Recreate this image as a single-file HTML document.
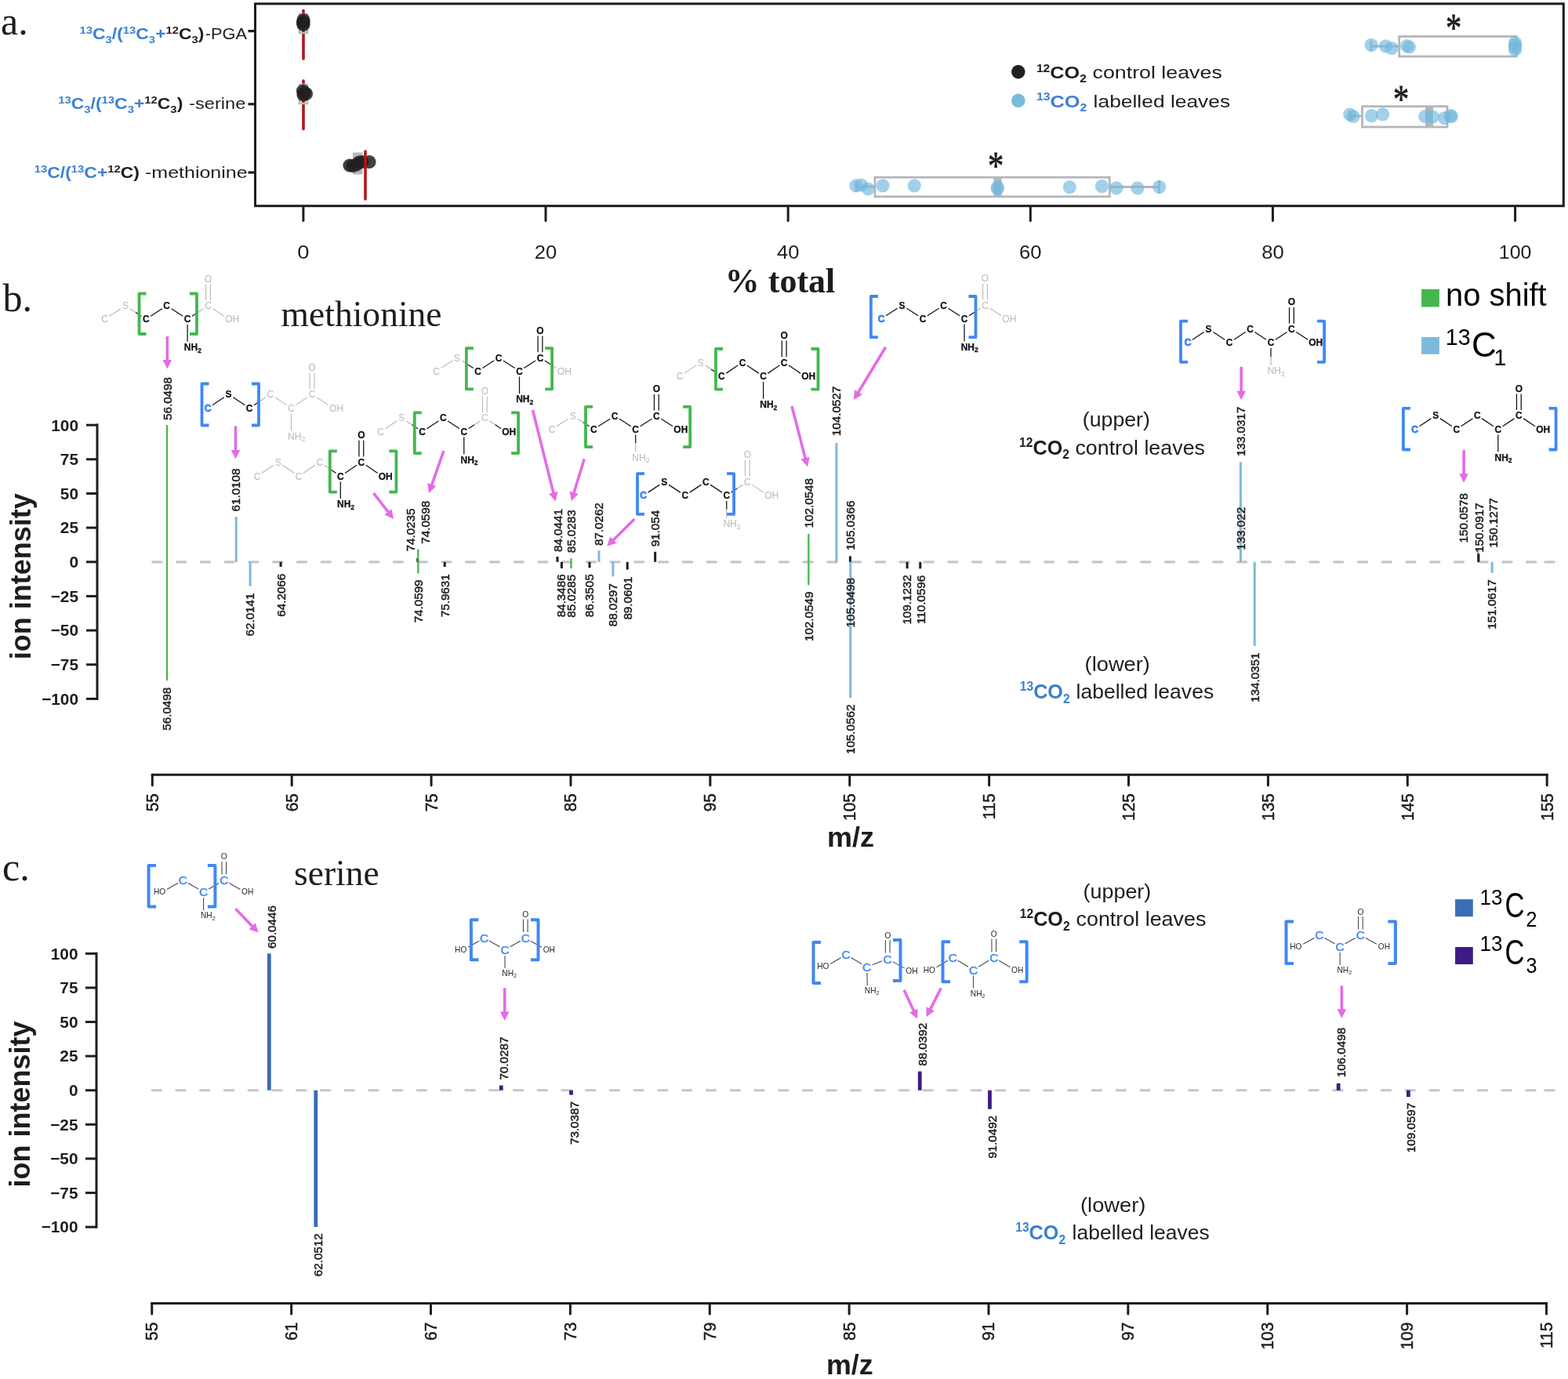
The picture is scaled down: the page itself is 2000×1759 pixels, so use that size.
<!DOCTYPE html>
<html><head><meta charset="utf-8"><title>Figure</title><style>html,body{margin:0;padding:0;background:#fff;}svg{display:block;}</style></head><body>
<svg width="2000" height="1759" viewBox="0 0 2000 1759">
<rect width="2000" height="1759" fill="#ffffff"/>
<text x="1" y="43.7" font-family="'Liberation Serif', 'Times New Roman', serif" font-size="50" font-weight="normal" fill="#1f1c1d" text-anchor="start" >a.</text>
<rect x="325.5" y="4.8" width="1668.8" height="257.9" fill="none" stroke="#1f1c1d" stroke-width="3"/>
<line x1="316.5" y1="39.6" x2="325.5" y2="39.6" stroke="#1f1c1d" stroke-width="3.2" stroke-linecap="butt" />
<line x1="316.5" y1="132.8" x2="325.5" y2="132.8" stroke="#1f1c1d" stroke-width="3.2" stroke-linecap="butt" />
<line x1="316.5" y1="220" x2="325.5" y2="220" stroke="#1f1c1d" stroke-width="3.2" stroke-linecap="butt" />
<line x1="386.9" y1="264" x2="386.9" y2="281.5" stroke="#1f1c1d" stroke-width="3" stroke-linecap="round" />
<text x="386.9" y="329.8" font-family="'Liberation Sans', Arial, sans-serif" font-size="24.8" font-weight="normal" fill="#1f1c1d" text-anchor="middle" textLength="15.2" lengthAdjust="spacingAndGlyphs">0</text>
<line x1="696.04" y1="264" x2="696.04" y2="281.5" stroke="#1f1c1d" stroke-width="3" stroke-linecap="round" />
<text x="696.04" y="329.8" font-family="'Liberation Sans', Arial, sans-serif" font-size="24.8" font-weight="normal" fill="#1f1c1d" text-anchor="middle" textLength="28.5" lengthAdjust="spacingAndGlyphs">20</text>
<line x1="1005.18" y1="264" x2="1005.18" y2="281.5" stroke="#1f1c1d" stroke-width="3" stroke-linecap="round" />
<text x="1005.18" y="329.8" font-family="'Liberation Sans', Arial, sans-serif" font-size="24.8" font-weight="normal" fill="#1f1c1d" text-anchor="middle" textLength="28.5" lengthAdjust="spacingAndGlyphs">40</text>
<line x1="1314.32" y1="264" x2="1314.32" y2="281.5" stroke="#1f1c1d" stroke-width="3" stroke-linecap="round" />
<text x="1314.32" y="329.8" font-family="'Liberation Sans', Arial, sans-serif" font-size="24.8" font-weight="normal" fill="#1f1c1d" text-anchor="middle" textLength="28.5" lengthAdjust="spacingAndGlyphs">60</text>
<line x1="1623.46" y1="264" x2="1623.46" y2="281.5" stroke="#1f1c1d" stroke-width="3" stroke-linecap="round" />
<text x="1623.46" y="329.8" font-family="'Liberation Sans', Arial, sans-serif" font-size="24.8" font-weight="normal" fill="#1f1c1d" text-anchor="middle" textLength="28.5" lengthAdjust="spacingAndGlyphs">80</text>
<line x1="1932.6" y1="264" x2="1932.6" y2="281.5" stroke="#1f1c1d" stroke-width="3" stroke-linecap="round" />
<text x="1932.6" y="329.8" font-family="'Liberation Sans', Arial, sans-serif" font-size="24.8" font-weight="normal" fill="#1f1c1d" text-anchor="middle" textLength="41.6" lengthAdjust="spacingAndGlyphs">100</text>
<text x="995" y="373" font-family="'Liberation Serif', 'Times New Roman', serif" font-size="44" font-weight="bold" fill="#1f1c1d" text-anchor="middle" >% total</text>
<text x="101.5" y="49.5" font-family="'Liberation Sans', Arial, sans-serif" font-size="20" font-weight="bold" textLength="159" lengthAdjust="spacingAndGlyphs"><tspan fill="#3b80d2"><tspan font-size="13" dy="-7">13</tspan><tspan dy="7">C</tspan><tspan font-size="13" dy="5">3</tspan><tspan dy="-5">/(</tspan><tspan font-size="13" dy="-7">13</tspan><tspan dy="7">C</tspan><tspan font-size="13" dy="5">3</tspan><tspan dy="-5">+</tspan></tspan><tspan fill="#1f1c1d"><tspan font-size="13" dy="-7">12</tspan><tspan dy="7">C</tspan><tspan font-size="13" dy="5">3</tspan><tspan dy="-5">)</tspan></tspan></text>
<text x="261.8" y="49.5" font-family="'Liberation Sans', Arial, sans-serif" font-size="20" fill="#1f1c1d" textLength="53.2" lengthAdjust="spacingAndGlyphs">-PGA</text>
<text x="74.2" y="139.4" font-family="'Liberation Sans', Arial, sans-serif" font-size="20" font-weight="bold" textLength="159.1" lengthAdjust="spacingAndGlyphs"><tspan fill="#3b80d2"><tspan font-size="13" dy="-7">13</tspan><tspan dy="7">C</tspan><tspan font-size="13" dy="5">3</tspan><tspan dy="-5">/(</tspan><tspan font-size="13" dy="-7">13</tspan><tspan dy="7">C</tspan><tspan font-size="13" dy="5">3</tspan><tspan dy="-5">+</tspan></tspan><tspan fill="#1f1c1d"><tspan font-size="13" dy="-7">12</tspan><tspan dy="7">C</tspan><tspan font-size="13" dy="5">3</tspan><tspan dy="-5">)</tspan></tspan></text>
<text x="241.1" y="139.4" font-family="'Liberation Sans', Arial, sans-serif" font-size="20" fill="#1f1c1d" textLength="72.2" lengthAdjust="spacingAndGlyphs">-serine</text>
<text x="43.7" y="226.7" font-family="'Liberation Sans', Arial, sans-serif" font-size="20" font-weight="bold" textLength="134.3" lengthAdjust="spacingAndGlyphs"><tspan fill="#3b80d2"><tspan font-size="13" dy="-7">13</tspan><tspan dy="7">C/(</tspan><tspan font-size="13" dy="-7">13</tspan><tspan dy="7">C+</tspan></tspan><tspan fill="#1f1c1d"><tspan font-size="13" dy="-7">12</tspan><tspan dy="7">C)</tspan></tspan></text>
<text x="185" y="226.7" font-family="'Liberation Sans', Arial, sans-serif" font-size="20" fill="#1f1c1d" textLength="130.6" lengthAdjust="spacingAndGlyphs">-methionine</text>
<line x1="387" y1="13.5" x2="387" y2="75" stroke="#b3161a" stroke-width="3.6" stroke-linecap="round" />
<line x1="387" y1="103" x2="387" y2="164.5" stroke="#b3161a" stroke-width="3.6" stroke-linecap="round" />
<rect x="382" y="18" width="10" height="24" fill="none" stroke="#b4b7ba" stroke-width="2.5"/>
<rect x="382" y="108" width="10" height="24" fill="none" stroke="#b4b7ba" stroke-width="2.5"/>
<rect x="451" y="195.5" width="10.5" height="26" fill="#b4b7ba" stroke="#b4b7ba" stroke-width="2"/>
<circle cx="387" cy="25.5" r="8.6" fill="#231f20" fill-opacity="0.85"/>
<circle cx="387" cy="28.5" r="8.6" fill="#231f20" fill-opacity="0.85"/>
<circle cx="387" cy="31.5" r="8.6" fill="#231f20" fill-opacity="0.85"/>
<circle cx="386.5" cy="29" r="8.6" fill="#231f20" fill-opacity="0.85"/>
<circle cx="386.5" cy="116" r="8.6" fill="#231f20" fill-opacity="0.85"/>
<circle cx="387" cy="121" r="8.6" fill="#231f20" fill-opacity="0.85"/>
<circle cx="390.5" cy="119.5" r="8.6" fill="#231f20" fill-opacity="0.85"/>
<circle cx="388" cy="119" r="8.6" fill="#231f20" fill-opacity="0.85"/>
<circle cx="446" cy="211" r="8.6" fill="#231f20" fill-opacity="0.85"/>
<circle cx="450" cy="211.5" r="8.6" fill="#231f20" fill-opacity="0.85"/>
<circle cx="454.5" cy="210" r="8.6" fill="#231f20" fill-opacity="0.85"/>
<circle cx="458" cy="207" r="8.6" fill="#231f20" fill-opacity="0.85"/>
<circle cx="462" cy="206.5" r="8.6" fill="#231f20" fill-opacity="0.85"/>
<circle cx="471" cy="206.5" r="8.6" fill="#231f20" fill-opacity="0.85"/>
<line x1="466" y1="193" x2="466" y2="254" stroke="#b3161a" stroke-width="3.6" stroke-linecap="round" />
<rect x="1784.7" y="46.5" width="149.3" height="25.5" fill="none" stroke="#b4b7ba" stroke-width="2.8"/>
<line x1="1749" y1="59" x2="1784.7" y2="59" stroke="#b4b7ba" stroke-width="2.8" stroke-linecap="butt" />
<line x1="1749" y1="52" x2="1749" y2="66" stroke="#b4b7ba" stroke-width="2.8" stroke-linecap="butt" />
<rect x="1737.5" y="135.7" width="108.5" height="26.3" fill="none" stroke="#b4b7ba" stroke-width="2.8"/>
<line x1="1722" y1="148" x2="1737.5" y2="148" stroke="#b4b7ba" stroke-width="2.8" stroke-linecap="butt" />
<line x1="1722" y1="141" x2="1722" y2="155" stroke="#b4b7ba" stroke-width="2.8" stroke-linecap="butt" />
<rect x="1818" y="135.7" width="10" height="26.3" fill="#b4b7ba"/>
<rect x="1116" y="226.2" width="299.3" height="24.6" fill="none" stroke="#b4b7ba" stroke-width="2.8"/>
<line x1="1092" y1="238" x2="1116" y2="238" stroke="#b4b7ba" stroke-width="2.8" stroke-linecap="butt" />
<line x1="1092" y1="231" x2="1092" y2="245" stroke="#b4b7ba" stroke-width="2.8" stroke-linecap="butt" />
<line x1="1415.3" y1="238.5" x2="1478.7" y2="238.5" stroke="#b4b7ba" stroke-width="2.8" stroke-linecap="butt" />
<line x1="1478.7" y1="230" x2="1478.7" y2="247" stroke="#b4b7ba" stroke-width="2.8" stroke-linecap="butt" />
<rect x="1267.5" y="226.2" width="10" height="24.6" fill="#b4b7ba"/>
<circle cx="1749" cy="57.4" r="8.6" fill="#74b7dd" fill-opacity="0.66"/>
<circle cx="1767.5" cy="58.8" r="8.6" fill="#74b7dd" fill-opacity="0.66"/>
<circle cx="1775" cy="61.5" r="8.6" fill="#74b7dd" fill-opacity="0.66"/>
<circle cx="1794.5" cy="58.5" r="8.6" fill="#74b7dd" fill-opacity="0.66"/>
<circle cx="1797.5" cy="60" r="8.6" fill="#74b7dd" fill-opacity="0.66"/>
<circle cx="1932.5" cy="54.5" r="8.6" fill="#74b7dd" fill-opacity="0.66"/>
<circle cx="1932.5" cy="57.5" r="8.6" fill="#74b7dd" fill-opacity="0.66"/>
<circle cx="1932.5" cy="60.5" r="8.6" fill="#74b7dd" fill-opacity="0.66"/>
<circle cx="1932.5" cy="63.5" r="8.6" fill="#74b7dd" fill-opacity="0.66"/>
<circle cx="1721.7" cy="146" r="8.6" fill="#74b7dd" fill-opacity="0.66"/>
<circle cx="1726" cy="148.5" r="8.6" fill="#74b7dd" fill-opacity="0.66"/>
<circle cx="1749.5" cy="147.7" r="8.6" fill="#74b7dd" fill-opacity="0.66"/>
<circle cx="1763.7" cy="145.8" r="8.6" fill="#74b7dd" fill-opacity="0.66"/>
<circle cx="1817.7" cy="148.5" r="8.6" fill="#74b7dd" fill-opacity="0.66"/>
<circle cx="1827.5" cy="149" r="8.6" fill="#74b7dd" fill-opacity="0.66"/>
<circle cx="1842.5" cy="150.7" r="8.6" fill="#74b7dd" fill-opacity="0.66"/>
<circle cx="1850" cy="147.7" r="8.6" fill="#74b7dd" fill-opacity="0.66"/>
<circle cx="1851.5" cy="148.5" r="8.6" fill="#74b7dd" fill-opacity="0.66"/>
<circle cx="1092" cy="236.8" r="8.6" fill="#74b7dd" fill-opacity="0.66"/>
<circle cx="1098.5" cy="236" r="8.6" fill="#74b7dd" fill-opacity="0.66"/>
<circle cx="1107.3" cy="241" r="8.6" fill="#74b7dd" fill-opacity="0.66"/>
<circle cx="1126" cy="236.8" r="8.6" fill="#74b7dd" fill-opacity="0.66"/>
<circle cx="1166.3" cy="236.8" r="8.6" fill="#74b7dd" fill-opacity="0.66"/>
<circle cx="1272.3" cy="238.5" r="8.6" fill="#74b7dd" fill-opacity="0.66"/>
<circle cx="1272.3" cy="241" r="8.6" fill="#74b7dd" fill-opacity="0.66"/>
<circle cx="1364.3" cy="238.7" r="8.6" fill="#74b7dd" fill-opacity="0.66"/>
<circle cx="1405.4" cy="237.6" r="8.6" fill="#74b7dd" fill-opacity="0.66"/>
<circle cx="1424" cy="239.8" r="8.6" fill="#74b7dd" fill-opacity="0.66"/>
<circle cx="1451" cy="239.8" r="8.6" fill="#74b7dd" fill-opacity="0.66"/>
<circle cx="1478.7" cy="238.3" r="8.6" fill="#74b7dd" fill-opacity="0.66"/>
<text transform="translate(1854,27.2) scale(0.92,1.17)" x="0" y="20.99" font-family="'Liberation Serif', 'Times New Roman', serif" font-size="44" fill="#1f1c1d" stroke="#1f1c1d" stroke-width="0.7" text-anchor="middle">*</text>
<text transform="translate(1787,118.5) scale(0.92,1.17)" x="0" y="20.99" font-family="'Liberation Serif', 'Times New Roman', serif" font-size="44" fill="#1f1c1d" stroke="#1f1c1d" stroke-width="0.7" text-anchor="middle">*</text>
<text transform="translate(1270.1,203.6) scale(0.92,1.17)" x="0" y="20.99" font-family="'Liberation Serif', 'Times New Roman', serif" font-size="44" fill="#1f1c1d" stroke="#1f1c1d" stroke-width="0.7" text-anchor="middle">*</text>
<circle cx="1298.8" cy="91.6" r="8.8" fill="#231f20"/>
<circle cx="1298.8" cy="128.4" r="8.8" fill="#7cbadb"/>
<text x="1321.9" y="100.4" font-family="'Liberation Sans', Arial, sans-serif" font-size="22.4" font-weight="bold" fill="#1f1c1d" textLength="64" lengthAdjust="spacingAndGlyphs"><tspan font-size="13.89" dy="-8.51">12</tspan><tspan dy="8.51">CO</tspan><tspan font-size="13.89" dy="4.93">2</tspan></text>
<text x="1393.5" y="100.4" font-family="'Liberation Sans', Arial, sans-serif" font-size="22.4" fill="#1f1c1d" textLength="165.3" lengthAdjust="spacingAndGlyphs">control leaves</text>
<text x="1321.9" y="136.9" font-family="'Liberation Sans', Arial, sans-serif" font-size="22.4" font-weight="bold" fill="#3b80d2" textLength="64.3" lengthAdjust="spacingAndGlyphs"><tspan font-size="13.89" dy="-8.51">13</tspan><tspan dy="8.51">CO</tspan><tspan font-size="13.89" dy="4.93">2</tspan></text>
<text x="1394.6" y="136.9" font-family="'Liberation Sans', Arial, sans-serif" font-size="22.4" fill="#1f1c1d" textLength="174.6" lengthAdjust="spacingAndGlyphs">labelled leaves</text>
<text x="3.5" y="396.5" font-family="'Liberation Serif', 'Times New Roman', serif" font-size="50" font-weight="normal" fill="#1f1c1d" text-anchor="start" >b.</text>
<text x="358.6" y="416" font-family="'Liberation Serif', 'Times New Roman', serif" font-size="45.5" font-weight="normal" fill="#1f1c1d" text-anchor="start" textLength="205" lengthAdjust="spacingAndGlyphs">methionine</text>
<line x1="194.8" y1="716.8" x2="1962" y2="716.8" stroke="#c4c7ca" stroke-width="3.2" stroke-linecap="round" stroke-dasharray="11.3 19.45"/>
<line x1="1970.9" y1="716.8" x2="1982.3" y2="716.8" stroke="#c4c7ca" stroke-width="3.2" stroke-linecap="round" />
<line x1="124" y1="540.5" x2="124" y2="892.9" stroke="#1f1c1d" stroke-width="3" stroke-linecap="butt" />
<line x1="110" y1="542.2" x2="124" y2="542.2" stroke="#1f1c1d" stroke-width="3" stroke-linecap="butt" />
<text x="100" y="549.52" font-family="'Liberation Sans', Arial, sans-serif" font-size="20.8" font-weight="bold" fill="#1f1c1d" text-anchor="end" >100</text>
<line x1="110" y1="585.85" x2="124" y2="585.85" stroke="#1f1c1d" stroke-width="3" stroke-linecap="butt" />
<text x="100" y="593.17" font-family="'Liberation Sans', Arial, sans-serif" font-size="20.8" font-weight="bold" fill="#1f1c1d" text-anchor="end" >75</text>
<line x1="110" y1="629.5" x2="124" y2="629.5" stroke="#1f1c1d" stroke-width="3" stroke-linecap="butt" />
<text x="100" y="636.82" font-family="'Liberation Sans', Arial, sans-serif" font-size="20.8" font-weight="bold" fill="#1f1c1d" text-anchor="end" >50</text>
<line x1="110" y1="673.15" x2="124" y2="673.15" stroke="#1f1c1d" stroke-width="3" stroke-linecap="butt" />
<text x="100" y="680.47" font-family="'Liberation Sans', Arial, sans-serif" font-size="20.8" font-weight="bold" fill="#1f1c1d" text-anchor="end" >25</text>
<line x1="110" y1="716.8" x2="124" y2="716.8" stroke="#1f1c1d" stroke-width="3" stroke-linecap="butt" />
<text x="100" y="724.12" font-family="'Liberation Sans', Arial, sans-serif" font-size="20.8" font-weight="bold" fill="#1f1c1d" text-anchor="end" >0</text>
<line x1="110" y1="760.45" x2="124" y2="760.45" stroke="#1f1c1d" stroke-width="3" stroke-linecap="butt" />
<text x="100" y="767.77" font-family="'Liberation Sans', Arial, sans-serif" font-size="20.8" font-weight="bold" fill="#1f1c1d" text-anchor="end" >−25</text>
<line x1="110" y1="804.1" x2="124" y2="804.1" stroke="#1f1c1d" stroke-width="3" stroke-linecap="butt" />
<text x="100" y="811.42" font-family="'Liberation Sans', Arial, sans-serif" font-size="20.8" font-weight="bold" fill="#1f1c1d" text-anchor="end" >−50</text>
<line x1="110" y1="847.75" x2="124" y2="847.75" stroke="#1f1c1d" stroke-width="3" stroke-linecap="butt" />
<text x="100" y="855.07" font-family="'Liberation Sans', Arial, sans-serif" font-size="20.8" font-weight="bold" fill="#1f1c1d" text-anchor="end" >−75</text>
<line x1="110" y1="891.4" x2="124" y2="891.4" stroke="#1f1c1d" stroke-width="3" stroke-linecap="butt" />
<text x="100" y="898.72" font-family="'Liberation Sans', Arial, sans-serif" font-size="20.8" font-weight="bold" fill="#1f1c1d" text-anchor="end" >−100</text>
<text transform="translate(38.7,735.2) rotate(-90)" font-family="'Liberation Sans', Arial, sans-serif" font-size="36" font-weight="bold" fill="#1f1c1d" text-anchor="middle">ion intensity</text>
<line x1="192.8" y1="988.3" x2="1974.7" y2="988.3" stroke="#1f1c1d" stroke-width="3" stroke-linecap="butt" />
<line x1="194.3" y1="988.3" x2="194.3" y2="1001.8" stroke="#1f1c1d" stroke-width="3" stroke-linecap="round" />
<text transform="translate(201.76,1012.2) rotate(-90) scale(1,1.06)" font-family="'Liberation Sans', Arial, sans-serif" font-size="20.8" font-weight="normal" fill="#1f1c1d" text-anchor="end" stroke="#1f1c1d" stroke-width="0.5">55</text>
<line x1="372.19" y1="988.3" x2="372.19" y2="1001.8" stroke="#1f1c1d" stroke-width="3" stroke-linecap="round" />
<text transform="translate(379.65,1012.2) rotate(-90) scale(1,1.06)" font-family="'Liberation Sans', Arial, sans-serif" font-size="20.8" font-weight="normal" fill="#1f1c1d" text-anchor="end" stroke="#1f1c1d" stroke-width="0.5">65</text>
<line x1="550.08" y1="988.3" x2="550.08" y2="1001.8" stroke="#1f1c1d" stroke-width="3" stroke-linecap="round" />
<text transform="translate(557.54,1012.2) rotate(-90) scale(1,1.06)" font-family="'Liberation Sans', Arial, sans-serif" font-size="20.8" font-weight="normal" fill="#1f1c1d" text-anchor="end" stroke="#1f1c1d" stroke-width="0.5">75</text>
<line x1="727.97" y1="988.3" x2="727.97" y2="1001.8" stroke="#1f1c1d" stroke-width="3" stroke-linecap="round" />
<text transform="translate(735.43,1012.2) rotate(-90) scale(1,1.06)" font-family="'Liberation Sans', Arial, sans-serif" font-size="20.8" font-weight="normal" fill="#1f1c1d" text-anchor="end" stroke="#1f1c1d" stroke-width="0.5">85</text>
<line x1="905.86" y1="988.3" x2="905.86" y2="1001.8" stroke="#1f1c1d" stroke-width="3" stroke-linecap="round" />
<text transform="translate(913.32,1012.2) rotate(-90) scale(1,1.06)" font-family="'Liberation Sans', Arial, sans-serif" font-size="20.8" font-weight="normal" fill="#1f1c1d" text-anchor="end" stroke="#1f1c1d" stroke-width="0.5">95</text>
<line x1="1083.75" y1="988.3" x2="1083.75" y2="1001.8" stroke="#1f1c1d" stroke-width="3" stroke-linecap="round" />
<text transform="translate(1091.21,1012.2) rotate(-90) scale(1,1.06)" font-family="'Liberation Sans', Arial, sans-serif" font-size="20.8" font-weight="normal" fill="#1f1c1d" text-anchor="end" stroke="#1f1c1d" stroke-width="0.5">105</text>
<line x1="1261.64" y1="988.3" x2="1261.64" y2="1001.8" stroke="#1f1c1d" stroke-width="3" stroke-linecap="round" />
<text transform="translate(1269.1,1012.2) rotate(-90) scale(1,1.06)" font-family="'Liberation Sans', Arial, sans-serif" font-size="20.8" font-weight="normal" fill="#1f1c1d" text-anchor="end" stroke="#1f1c1d" stroke-width="0.5">115</text>
<line x1="1439.53" y1="988.3" x2="1439.53" y2="1001.8" stroke="#1f1c1d" stroke-width="3" stroke-linecap="round" />
<text transform="translate(1446.99,1012.2) rotate(-90) scale(1,1.06)" font-family="'Liberation Sans', Arial, sans-serif" font-size="20.8" font-weight="normal" fill="#1f1c1d" text-anchor="end" stroke="#1f1c1d" stroke-width="0.5">125</text>
<line x1="1617.42" y1="988.3" x2="1617.42" y2="1001.8" stroke="#1f1c1d" stroke-width="3" stroke-linecap="round" />
<text transform="translate(1624.88,1012.2) rotate(-90) scale(1,1.06)" font-family="'Liberation Sans', Arial, sans-serif" font-size="20.8" font-weight="normal" fill="#1f1c1d" text-anchor="end" stroke="#1f1c1d" stroke-width="0.5">135</text>
<line x1="1795.31" y1="988.3" x2="1795.31" y2="1001.8" stroke="#1f1c1d" stroke-width="3" stroke-linecap="round" />
<text transform="translate(1802.77,1012.2) rotate(-90) scale(1,1.06)" font-family="'Liberation Sans', Arial, sans-serif" font-size="20.8" font-weight="normal" fill="#1f1c1d" text-anchor="end" stroke="#1f1c1d" stroke-width="0.5">145</text>
<line x1="1973.2" y1="988.3" x2="1973.2" y2="1001.8" stroke="#1f1c1d" stroke-width="3" stroke-linecap="round" />
<text transform="translate(1980.66,1012.2) rotate(-90) scale(1,1.06)" font-family="'Liberation Sans', Arial, sans-serif" font-size="20.8" font-weight="normal" fill="#1f1c1d" text-anchor="end" stroke="#1f1c1d" stroke-width="0.5">155</text>
<text x="1054.9" y="1080.25" font-family="'Liberation Sans', Arial, sans-serif" font-size="35" font-weight="bold" fill="#1f1c1d" text-anchor="start" textLength="60" lengthAdjust="spacingAndGlyphs">m/z</text>
<line x1="212.97" y1="716.8" x2="212.97" y2="542.2" stroke="#44b750" stroke-width="2.3" stroke-linecap="butt" />
<line x1="301.23" y1="716.8" x2="301.23" y2="659.2" stroke="#7cbadb" stroke-width="3" stroke-linecap="butt" />
<line x1="532.71" y1="716.8" x2="532.71" y2="712" stroke="#1f1c1d" stroke-width="3" stroke-linecap="butt" />
<line x1="533.35" y1="716.8" x2="533.35" y2="700.6" stroke="#44b750" stroke-width="2.3" stroke-linecap="butt" />
<line x1="710.97" y1="716.8" x2="710.97" y2="710" stroke="#1f1c1d" stroke-width="3" stroke-linecap="butt" />
<line x1="728.47" y1="716.8" x2="728.47" y2="712.2" stroke="#44b750" stroke-width="2.3" stroke-linecap="butt" />
<line x1="764.01" y1="716.8" x2="764.01" y2="702.3" stroke="#7cbadb" stroke-width="3" stroke-linecap="butt" />
<line x1="835.66" y1="716.8" x2="835.66" y2="703.8" stroke="#1f1c1d" stroke-width="3" stroke-linecap="butt" />
<line x1="1031.36" y1="716.8" x2="1031.36" y2="681" stroke="#44b750" stroke-width="2.3" stroke-linecap="butt" />
<line x1="1066.9" y1="716.8" x2="1066.9" y2="565" stroke="#7cbadb" stroke-width="3" stroke-linecap="butt" />
<line x1="1084.4" y1="716.8" x2="1084.4" y2="709.4" stroke="#1f1c1d" stroke-width="3" stroke-linecap="butt" />
<line x1="1582.41" y1="716.8" x2="1582.41" y2="589.4" stroke="#7cbadb" stroke-width="3" stroke-linecap="butt" />
<line x1="1885.3" y1="716.8" x2="1885.3" y2="701" stroke="#7cbadb" stroke-width="2.6" stroke-linecap="butt" />
<line x1="1885.89" y1="716.8" x2="1885.89" y2="706.3" stroke="#1f1c1d" stroke-width="3" stroke-linecap="butt" />
<line x1="212.97" y1="716.8" x2="212.97" y2="868.2" stroke="#44b750" stroke-width="2.3" stroke-linecap="butt" />
<line x1="319.07" y1="716.8" x2="319.07" y2="747.7" stroke="#7cbadb" stroke-width="3" stroke-linecap="butt" />
<line x1="358.08" y1="716.8" x2="358.08" y2="723" stroke="#1f1c1d" stroke-width="3" stroke-linecap="butt" />
<line x1="533.36" y1="716.8" x2="533.36" y2="731.4" stroke="#44b750" stroke-width="2.3" stroke-linecap="butt" />
<line x1="567.21" y1="716.8" x2="567.21" y2="723" stroke="#1f1c1d" stroke-width="3" stroke-linecap="butt" />
<line x1="716.38" y1="716.8" x2="716.38" y2="725" stroke="#1f1c1d" stroke-width="3" stroke-linecap="butt" />
<line x1="728.48" y1="716.8" x2="728.48" y2="725" stroke="#44b750" stroke-width="2.3" stroke-linecap="butt" />
<line x1="751.99" y1="716.8" x2="751.99" y2="724.3" stroke="#1f1c1d" stroke-width="3" stroke-linecap="butt" />
<line x1="781.87" y1="716.8" x2="781.87" y2="735.3" stroke="#7cbadb" stroke-width="3" stroke-linecap="butt" />
<line x1="800.2" y1="716.8" x2="800.2" y2="726.5" stroke="#1f1c1d" stroke-width="3" stroke-linecap="butt" />
<line x1="1031.36" y1="716.8" x2="1031.36" y2="746.3" stroke="#44b750" stroke-width="2.3" stroke-linecap="butt" />
<line x1="1084.75" y1="716.8" x2="1084.75" y2="890.1" stroke="#7cbadb" stroke-width="3" stroke-linecap="butt" />
<line x1="1157.1" y1="716.8" x2="1157.1" y2="725.3" stroke="#1f1c1d" stroke-width="3" stroke-linecap="butt" />
<line x1="1173.76" y1="716.8" x2="1173.76" y2="725.3" stroke="#1f1c1d" stroke-width="3" stroke-linecap="butt" />
<line x1="1600.26" y1="716.8" x2="1600.26" y2="824" stroke="#7cbadb" stroke-width="3" stroke-linecap="butt" />
<line x1="1903.14" y1="716.8" x2="1903.14" y2="730.8" stroke="#7cbadb" stroke-width="3" stroke-linecap="butt" />
<text transform="translate(218.55,508.5) rotate(-90)" font-family="'Liberation Sans', Arial, sans-serif" font-size="15.2" font-weight="normal" fill="#1f1c1d" text-anchor="middle" stroke="#1f1c1d" stroke-width="0.5">56.0498</text>
<text transform="translate(306.05,625) rotate(-90)" font-family="'Liberation Sans', Arial, sans-serif" font-size="15.2" font-weight="normal" fill="#1f1c1d" text-anchor="middle" stroke="#1f1c1d" stroke-width="0.5">61.0108</text>
<text transform="translate(529.35,676) rotate(-90)" font-family="'Liberation Sans', Arial, sans-serif" font-size="15.2" font-weight="normal" fill="#1f1c1d" text-anchor="middle" stroke="#1f1c1d" stroke-width="0.5">74.0235</text>
<text transform="translate(547.65,666.25) rotate(-90)" font-family="'Liberation Sans', Arial, sans-serif" font-size="15.2" font-weight="normal" fill="#1f1c1d" text-anchor="middle" stroke="#1f1c1d" stroke-width="0.5">74.0598</text>
<text transform="translate(716.55,676.55) rotate(-90)" font-family="'Liberation Sans', Arial, sans-serif" font-size="15.2" font-weight="normal" fill="#1f1c1d" text-anchor="middle" stroke="#1f1c1d" stroke-width="0.5">84.0441</text>
<text transform="translate(733.85,677.8) rotate(-90)" font-family="'Liberation Sans', Arial, sans-serif" font-size="15.2" font-weight="normal" fill="#1f1c1d" text-anchor="middle" stroke="#1f1c1d" stroke-width="0.5">85.0283</text>
<text transform="translate(769.35,668.65) rotate(-90)" font-family="'Liberation Sans', Arial, sans-serif" font-size="15.2" font-weight="normal" fill="#1f1c1d" text-anchor="middle" stroke="#1f1c1d" stroke-width="0.5">87.0262</text>
<text transform="translate(841.25,674.15) rotate(-90)" font-family="'Liberation Sans', Arial, sans-serif" font-size="15.2" font-weight="normal" fill="#1f1c1d" text-anchor="middle" stroke="#1f1c1d" stroke-width="0.5">91.054</text>
<text transform="translate(1036.65,641.75) rotate(-90)" font-family="'Liberation Sans', Arial, sans-serif" font-size="15.2" font-weight="normal" fill="#1f1c1d" text-anchor="middle" stroke="#1f1c1d" stroke-width="0.5">102.0548</text>
<text transform="translate(1072.05,524.5) rotate(-90)" font-family="'Liberation Sans', Arial, sans-serif" font-size="15.2" font-weight="normal" fill="#1f1c1d" text-anchor="middle" stroke="#1f1c1d" stroke-width="0.5">104.0527</text>
<text transform="translate(1089.85,670.3) rotate(-90)" font-family="'Liberation Sans', Arial, sans-serif" font-size="15.2" font-weight="normal" fill="#1f1c1d" text-anchor="middle" stroke="#1f1c1d" stroke-width="0.5">105.0366</text>
<text transform="translate(1587.75,550.45) rotate(-90)" font-family="'Liberation Sans', Arial, sans-serif" font-size="15.2" font-weight="normal" fill="#1f1c1d" text-anchor="middle" stroke="#1f1c1d" stroke-width="0.5">133.0317</text>
<text transform="translate(1587.75,674.35) rotate(-90)" font-family="'Liberation Sans', Arial, sans-serif" font-size="15.2" font-weight="normal" fill="#1f1c1d" text-anchor="middle" stroke="#1f1c1d" stroke-width="0.5">133.022</text>
<text transform="translate(1872.45,660.75) rotate(-90)" font-family="'Liberation Sans', Arial, sans-serif" font-size="15.2" font-weight="normal" fill="#1f1c1d" text-anchor="middle" stroke="#1f1c1d" stroke-width="0.5">150.0578</text>
<text transform="translate(1891.85,673.2) rotate(-90)" font-family="'Liberation Sans', Arial, sans-serif" font-size="15.2" font-weight="normal" fill="#1f1c1d" text-anchor="middle" stroke="#1f1c1d" stroke-width="0.5">150.0917</text>
<text transform="translate(1910.05,667) rotate(-90)" font-family="'Liberation Sans', Arial, sans-serif" font-size="15.2" font-weight="normal" fill="#1f1c1d" text-anchor="middle" stroke="#1f1c1d" stroke-width="0.5">150.1277</text>
<text transform="translate(218.05,904.25) rotate(-90)" font-family="'Liberation Sans', Arial, sans-serif" font-size="15.2" font-weight="normal" fill="#1f1c1d" text-anchor="middle" stroke="#1f1c1d" stroke-width="0.5">56.0498</text>
<text transform="translate(324.35,784) rotate(-90)" font-family="'Liberation Sans', Arial, sans-serif" font-size="15.2" font-weight="normal" fill="#1f1c1d" text-anchor="middle" stroke="#1f1c1d" stroke-width="0.5">62.0141</text>
<text transform="translate(364.35,759.2) rotate(-90)" font-family="'Liberation Sans', Arial, sans-serif" font-size="15.2" font-weight="normal" fill="#1f1c1d" text-anchor="middle" stroke="#1f1c1d" stroke-width="0.5">64.2066</text>
<text transform="translate(539.25,766.9) rotate(-90)" font-family="'Liberation Sans', Arial, sans-serif" font-size="15.2" font-weight="normal" fill="#1f1c1d" text-anchor="middle" stroke="#1f1c1d" stroke-width="0.5">74.0599</text>
<text transform="translate(572.65,759.75) rotate(-90)" font-family="'Liberation Sans', Arial, sans-serif" font-size="15.2" font-weight="normal" fill="#1f1c1d" text-anchor="middle" stroke="#1f1c1d" stroke-width="0.5">75.9631</text>
<text transform="translate(721.35,759.8) rotate(-90)" font-family="'Liberation Sans', Arial, sans-serif" font-size="15.2" font-weight="normal" fill="#1f1c1d" text-anchor="middle" stroke="#1f1c1d" stroke-width="0.5">84.3486</text>
<text transform="translate(733.85,760.3) rotate(-90)" font-family="'Liberation Sans', Arial, sans-serif" font-size="15.2" font-weight="normal" fill="#1f1c1d" text-anchor="middle" stroke="#1f1c1d" stroke-width="0.5">85.0285</text>
<text transform="translate(757.05,759.8) rotate(-90)" font-family="'Liberation Sans', Arial, sans-serif" font-size="15.2" font-weight="normal" fill="#1f1c1d" text-anchor="middle" stroke="#1f1c1d" stroke-width="0.5">86.3505</text>
<text transform="translate(787.35,771.85) rotate(-90)" font-family="'Liberation Sans', Arial, sans-serif" font-size="15.2" font-weight="normal" fill="#1f1c1d" text-anchor="middle" stroke="#1f1c1d" stroke-width="0.5">88.0297</text>
<text transform="translate(805.65,763.15) rotate(-90)" font-family="'Liberation Sans', Arial, sans-serif" font-size="15.2" font-weight="normal" fill="#1f1c1d" text-anchor="middle" stroke="#1f1c1d" stroke-width="0.5">89.0601</text>
<text transform="translate(1036.65,786.35) rotate(-90)" font-family="'Liberation Sans', Arial, sans-serif" font-size="15.2" font-weight="normal" fill="#1f1c1d" text-anchor="middle" stroke="#1f1c1d" stroke-width="0.5">102.0549</text>
<text transform="translate(1089.85,768.75) rotate(-90)" font-family="'Liberation Sans', Arial, sans-serif" font-size="15.2" font-weight="normal" fill="#1f1c1d" text-anchor="middle" stroke="#1f1c1d" stroke-width="0.5">105.0498</text>
<text transform="translate(1090.05,930.35) rotate(-90)" font-family="'Liberation Sans', Arial, sans-serif" font-size="15.2" font-weight="normal" fill="#1f1c1d" text-anchor="middle" stroke="#1f1c1d" stroke-width="0.5">105.0562</text>
<text transform="translate(1162.25,764.95) rotate(-90)" font-family="'Liberation Sans', Arial, sans-serif" font-size="15.2" font-weight="normal" fill="#1f1c1d" text-anchor="middle" stroke="#1f1c1d" stroke-width="0.5">109.1232</text>
<text transform="translate(1179.75,764.95) rotate(-90)" font-family="'Liberation Sans', Arial, sans-serif" font-size="15.2" font-weight="normal" fill="#1f1c1d" text-anchor="middle" stroke="#1f1c1d" stroke-width="0.5">110.0596</text>
<text transform="translate(1605.55,864.25) rotate(-90)" font-family="'Liberation Sans', Arial, sans-serif" font-size="15.2" font-weight="normal" fill="#1f1c1d" text-anchor="middle" stroke="#1f1c1d" stroke-width="0.5">134.0351</text>
<text transform="translate(1908.05,771) rotate(-90)" font-family="'Liberation Sans', Arial, sans-serif" font-size="15.2" font-weight="normal" fill="#1f1c1d" text-anchor="middle" stroke="#1f1c1d" stroke-width="0.5">151.0617</text>
<text x="1380.8" y="544.3" font-family="'Liberation Sans', Arial, sans-serif" font-size="26.4" fill="#1f1c1d" textLength="86.1" lengthAdjust="spacingAndGlyphs">(upper)</text>
<text x="1300.1" y="579.6" font-family="'Liberation Sans', Arial, sans-serif" font-size="26.4" font-weight="bold" fill="#1f1c1d" textLength="63.9" lengthAdjust="spacingAndGlyphs"><tspan font-size="16.37" dy="-10.03">12</tspan><tspan dy="10.03">CO</tspan><tspan font-size="16.37" dy="5.81">2</tspan></text>
<text x="1371.4" y="579.6" font-family="'Liberation Sans', Arial, sans-serif" font-size="26.4" fill="#1f1c1d" textLength="165.6" lengthAdjust="spacingAndGlyphs">control leaves</text>
<text x="1383.6" y="855.7" font-family="'Liberation Sans', Arial, sans-serif" font-size="26.4" fill="#1f1c1d" textLength="83.3" lengthAdjust="spacingAndGlyphs">(lower)</text>
<text x="1300.8" y="890.7" font-family="'Liberation Sans', Arial, sans-serif" font-size="26.4" font-weight="bold" fill="#3b80d2" textLength="63.9" lengthAdjust="spacingAndGlyphs"><tspan font-size="16.37" dy="-10.03">13</tspan><tspan dy="10.03">CO</tspan><tspan font-size="16.37" dy="5.81">2</tspan></text>
<text x="1372.5" y="890.7" font-family="'Liberation Sans', Arial, sans-serif" font-size="26.4" fill="#1f1c1d" textLength="175.7" lengthAdjust="spacingAndGlyphs">labelled leaves</text>
<rect x="1813.1" y="368.9" width="22.8" height="22.6" fill="#44b750"/>
<text x="1844" y="390.4" font-family="'Liberation Sans', Arial, sans-serif" font-size="40" font-weight="normal" fill="#000" text-anchor="start" textLength="128.7" lengthAdjust="spacingAndGlyphs">no shift</text>
<rect x="1813.1" y="430" width="22.8" height="21.8" fill="#7cbadb"/>
<text x="1843.8" y="439.8" font-family="'Liberation Sans', Arial, sans-serif" font-size="28.6" font-weight="normal" fill="#000" text-anchor="start" >13</text>
<text x="1877" y="454.5" font-family="'Liberation Sans', Arial, sans-serif" font-size="44" font-weight="normal" fill="#000" text-anchor="start" >C</text>
<text x="1905.5" y="466" font-family="'Liberation Sans', Arial, sans-serif" font-size="28.6" font-weight="normal" fill="#000" text-anchor="start" >1</text>
<line x1="139.39" y1="403.21" x2="154.01" y2="393.79" stroke="#b9b9b9" stroke-width="1.1" stroke-linecap="butt" />
<line x1="165.79" y1="393.79" x2="173.1" y2="398.5" stroke="#b9b9b9" stroke-width="1.25" stroke-linecap="butt" />
<line x1="173.1" y1="398.5" x2="180.41" y2="403.21" stroke="#111111" stroke-width="1.25" stroke-linecap="butt" />
<line x1="192.19" y1="403.21" x2="206.81" y2="393.79" stroke="#111111" stroke-width="1.25" stroke-linecap="butt" />
<line x1="218.59" y1="393.79" x2="233.21" y2="403.21" stroke="#111111" stroke-width="1.25" stroke-linecap="butt" />
<line x1="244.99" y1="403.21" x2="252.3" y2="398.5" stroke="#111111" stroke-width="1.25" stroke-linecap="butt" />
<line x1="252.3" y1="398.5" x2="259.61" y2="393.79" stroke="#b9b9b9" stroke-width="1.25" stroke-linecap="butt" />
<line x1="271.39" y1="393.79" x2="286.01" y2="403.21" stroke="#b9b9b9" stroke-width="1.1" stroke-linecap="butt" />
<line x1="268.4" y1="383" x2="268.4" y2="362.4" stroke="#b9b9b9" stroke-width="1.1" stroke-linecap="butt" />
<line x1="262.6" y1="383" x2="262.6" y2="362.4" stroke="#b9b9b9" stroke-width="1.1" stroke-linecap="butt" />
<line x1="239.1" y1="414" x2="239.1" y2="435.7" stroke="#111111" stroke-width="1.25" stroke-linecap="butt" />
<text x="133.5" y="411.3" font-family="'Liberation Sans', Arial, sans-serif" font-size="12" font-weight="normal" fill="#b9b9b9" text-anchor="middle" >C</text>
<text x="159.9" y="394.3" font-family="'Liberation Sans', Arial, sans-serif" font-size="12" font-weight="normal" fill="#b9b9b9" text-anchor="middle" >S</text>
<text x="186.3" y="411.3" font-family="'Liberation Sans', Arial, sans-serif" font-size="12" font-weight="bold" fill="#111111" text-anchor="middle" stroke="#111111" stroke-width="0.25">C</text>
<text x="212.7" y="394.3" font-family="'Liberation Sans', Arial, sans-serif" font-size="12" font-weight="bold" fill="#111111" text-anchor="middle" stroke="#111111" stroke-width="0.25">C</text>
<text x="239.1" y="411.3" font-family="'Liberation Sans', Arial, sans-serif" font-size="12" font-weight="bold" fill="#111111" text-anchor="middle" stroke="#111111" stroke-width="0.25">C</text>
<text x="265.5" y="394.3" font-family="'Liberation Sans', Arial, sans-serif" font-size="12" font-weight="normal" fill="#b9b9b9" text-anchor="middle" >C</text>
<text x="287.23" y="411.3" font-family="'Liberation Sans', Arial, sans-serif" font-size="12" font-weight="normal" fill="#b9b9b9" text-anchor="start" >OH</text>
<text x="265.5" y="359.7" font-family="'Liberation Sans', Arial, sans-serif" font-size="12" font-weight="normal" fill="#b9b9b9" text-anchor="middle" >O</text>
<text x="234.77" y="447" font-family="'Liberation Sans', Arial, sans-serif" font-size="12" font-weight="bold" fill="#111111" stroke="#111111" stroke-width="0.25">NH<tspan font-size="8.64" dy="2.64">2</tspan></text>
<path d="M186.5 374.5 H177.5 V426 H186.5" fill="none" stroke="#44b750" stroke-width="3.8" stroke-linejoin="round"/>
<path d="M242 374.5 H251 V426 H242" fill="none" stroke="#44b750" stroke-width="3.8" stroke-linejoin="round"/>
<line x1="270.85" y1="516.65" x2="285.75" y2="506.85" stroke="#111111" stroke-width="1.25" stroke-linecap="butt" />
<line x1="297.45" y1="506.85" x2="312.35" y2="516.65" stroke="#111111" stroke-width="1.25" stroke-linecap="butt" />
<line x1="324.05" y1="516.65" x2="331.5" y2="511.75" stroke="#111111" stroke-width="1.25" stroke-linecap="butt" />
<line x1="331.5" y1="511.75" x2="338.95" y2="506.85" stroke="#b9b9b9" stroke-width="1.25" stroke-linecap="butt" />
<line x1="350.65" y1="506.85" x2="365.55" y2="516.65" stroke="#b9b9b9" stroke-width="1.1" stroke-linecap="butt" />
<line x1="377.25" y1="516.65" x2="392.15" y2="506.85" stroke="#b9b9b9" stroke-width="1.1" stroke-linecap="butt" />
<line x1="403.85" y1="506.85" x2="418.75" y2="516.65" stroke="#b9b9b9" stroke-width="1.1" stroke-linecap="butt" />
<line x1="400.9" y1="496" x2="400.9" y2="475.4" stroke="#b9b9b9" stroke-width="1.1" stroke-linecap="butt" />
<line x1="395.1" y1="496" x2="395.1" y2="475.4" stroke="#b9b9b9" stroke-width="1.1" stroke-linecap="butt" />
<line x1="371.4" y1="527.5" x2="371.4" y2="549.2" stroke="#b9b9b9" stroke-width="1.1" stroke-linecap="butt" />
<text x="265" y="524.8" font-family="'Liberation Sans', Arial, sans-serif" font-size="12" font-weight="bold" fill="#4088f2" text-anchor="middle" stroke="#4088f2" stroke-width="0.9">C</text>
<text x="291.6" y="507.3" font-family="'Liberation Sans', Arial, sans-serif" font-size="12" font-weight="bold" fill="#111111" text-anchor="middle" stroke="#111111" stroke-width="0.25">S</text>
<text x="318.2" y="524.8" font-family="'Liberation Sans', Arial, sans-serif" font-size="12" font-weight="bold" fill="#111111" text-anchor="middle" stroke="#111111" stroke-width="0.25">C</text>
<text x="344.8" y="507.3" font-family="'Liberation Sans', Arial, sans-serif" font-size="12" font-weight="normal" fill="#b9b9b9" text-anchor="middle" >C</text>
<text x="371.4" y="524.8" font-family="'Liberation Sans', Arial, sans-serif" font-size="12" font-weight="normal" fill="#b9b9b9" text-anchor="middle" >C</text>
<text x="398" y="507.3" font-family="'Liberation Sans', Arial, sans-serif" font-size="12" font-weight="normal" fill="#b9b9b9" text-anchor="middle" >C</text>
<text x="419.93" y="524.8" font-family="'Liberation Sans', Arial, sans-serif" font-size="12" font-weight="normal" fill="#b9b9b9" text-anchor="start" >OH</text>
<text x="398" y="472.7" font-family="'Liberation Sans', Arial, sans-serif" font-size="12" font-weight="normal" fill="#b9b9b9" text-anchor="middle" >O</text>
<text x="367.07" y="560.5" font-family="'Liberation Sans', Arial, sans-serif" font-size="12" font-weight="normal" fill="#b9b9b9" >NH<tspan font-size="8.64" dy="2.64">2</tspan></text>
<path d="M266.5 489.5 H257.5 V542.5 H266.5" fill="none" stroke="#4088f2" stroke-width="3.8" stroke-linejoin="round"/>
<path d="M321 489.5 H330 V542.5 H321" fill="none" stroke="#4088f2" stroke-width="3.8" stroke-linejoin="round"/>
<line x1="333.89" y1="603.47" x2="348.86" y2="593.33" stroke="#b9b9b9" stroke-width="1.1" stroke-linecap="butt" />
<line x1="360.44" y1="593.33" x2="375.41" y2="603.47" stroke="#b9b9b9" stroke-width="1.1" stroke-linecap="butt" />
<line x1="386.99" y1="603.47" x2="401.96" y2="593.33" stroke="#b9b9b9" stroke-width="1.1" stroke-linecap="butt" />
<line x1="413.54" y1="593.33" x2="421.02" y2="598.4" stroke="#b9b9b9" stroke-width="1.25" stroke-linecap="butt" />
<line x1="421.02" y1="598.4" x2="428.51" y2="603.47" stroke="#111111" stroke-width="1.25" stroke-linecap="butt" />
<line x1="440.09" y1="603.47" x2="455.06" y2="593.33" stroke="#111111" stroke-width="1.25" stroke-linecap="butt" />
<line x1="466.64" y1="593.33" x2="481.61" y2="603.47" stroke="#111111" stroke-width="1.25" stroke-linecap="butt" />
<line x1="463.75" y1="582.4" x2="463.75" y2="561.8" stroke="#111111" stroke-width="1.25" stroke-linecap="butt" />
<line x1="457.95" y1="582.4" x2="457.95" y2="561.8" stroke="#111111" stroke-width="1.25" stroke-linecap="butt" />
<line x1="434.3" y1="614.4" x2="434.3" y2="636.1" stroke="#111111" stroke-width="1.25" stroke-linecap="butt" />
<text x="328.1" y="611.7" font-family="'Liberation Sans', Arial, sans-serif" font-size="12" font-weight="normal" fill="#b9b9b9" text-anchor="middle" >C</text>
<text x="354.65" y="593.7" font-family="'Liberation Sans', Arial, sans-serif" font-size="12" font-weight="normal" fill="#b9b9b9" text-anchor="middle" >S</text>
<text x="381.2" y="611.7" font-family="'Liberation Sans', Arial, sans-serif" font-size="12" font-weight="normal" fill="#b9b9b9" text-anchor="middle" >C</text>
<text x="407.75" y="593.7" font-family="'Liberation Sans', Arial, sans-serif" font-size="12" font-weight="normal" fill="#b9b9b9" text-anchor="middle" >C</text>
<text x="434.3" y="611.7" font-family="'Liberation Sans', Arial, sans-serif" font-size="12" font-weight="bold" fill="#111111" text-anchor="middle" stroke="#111111" stroke-width="0.25">C</text>
<text x="460.85" y="593.7" font-family="'Liberation Sans', Arial, sans-serif" font-size="12" font-weight="bold" fill="#111111" text-anchor="middle" stroke="#111111" stroke-width="0.25">C</text>
<text x="482.73" y="611.7" font-family="'Liberation Sans', Arial, sans-serif" font-size="12" font-weight="bold" fill="#111111" text-anchor="start" stroke="#111111" stroke-width="0.25">OH</text>
<text x="460.85" y="559.1" font-family="'Liberation Sans', Arial, sans-serif" font-size="12" font-weight="bold" fill="#111111" text-anchor="middle" stroke="#111111" stroke-width="0.25">O</text>
<text x="429.97" y="647.4" font-family="'Liberation Sans', Arial, sans-serif" font-size="12" font-weight="bold" fill="#111111" stroke="#111111" stroke-width="0.25">NH<tspan font-size="8.64" dy="2.64">2</tspan></text>
<path d="M429.8 575.4 H420.8 V627.6 H429.8" fill="none" stroke="#44b750" stroke-width="3.8" stroke-linejoin="round"/>
<path d="M496.4 575.4 H505.4 V627.6 H496.4" fill="none" stroke="#44b750" stroke-width="3.8" stroke-linejoin="round"/>
<line x1="491.44" y1="546.75" x2="506.31" y2="536.95" stroke="#b9b9b9" stroke-width="1.1" stroke-linecap="butt" />
<line x1="517.99" y1="536.95" x2="525.42" y2="541.85" stroke="#b9b9b9" stroke-width="1.25" stroke-linecap="butt" />
<line x1="525.42" y1="541.85" x2="532.86" y2="546.75" stroke="#111111" stroke-width="1.25" stroke-linecap="butt" />
<line x1="544.54" y1="546.75" x2="559.41" y2="536.95" stroke="#111111" stroke-width="1.25" stroke-linecap="butt" />
<line x1="571.09" y1="536.95" x2="585.96" y2="546.75" stroke="#111111" stroke-width="1.25" stroke-linecap="butt" />
<line x1="597.64" y1="546.75" x2="605.08" y2="541.85" stroke="#111111" stroke-width="1.25" stroke-linecap="butt" />
<line x1="605.08" y1="541.85" x2="612.51" y2="536.95" stroke="#b9b9b9" stroke-width="1.25" stroke-linecap="butt" />
<line x1="624.19" y1="536.95" x2="631.62" y2="541.85" stroke="#b9b9b9" stroke-width="1.25" stroke-linecap="butt" />
<line x1="631.62" y1="541.85" x2="639.06" y2="546.75" stroke="#111111" stroke-width="1.25" stroke-linecap="butt" />
<line x1="621.25" y1="526.1" x2="621.25" y2="505.5" stroke="#b9b9b9" stroke-width="1.1" stroke-linecap="butt" />
<line x1="615.45" y1="526.1" x2="615.45" y2="505.5" stroke="#b9b9b9" stroke-width="1.1" stroke-linecap="butt" />
<line x1="591.8" y1="557.6" x2="591.8" y2="579.3" stroke="#111111" stroke-width="1.25" stroke-linecap="butt" />
<text x="485.6" y="554.9" font-family="'Liberation Sans', Arial, sans-serif" font-size="12" font-weight="normal" fill="#b9b9b9" text-anchor="middle" >C</text>
<text x="512.15" y="537.4" font-family="'Liberation Sans', Arial, sans-serif" font-size="12" font-weight="normal" fill="#b9b9b9" text-anchor="middle" >S</text>
<text x="538.7" y="554.9" font-family="'Liberation Sans', Arial, sans-serif" font-size="12" font-weight="bold" fill="#111111" text-anchor="middle" stroke="#111111" stroke-width="0.25">C</text>
<text x="565.25" y="537.4" font-family="'Liberation Sans', Arial, sans-serif" font-size="12" font-weight="bold" fill="#111111" text-anchor="middle" stroke="#111111" stroke-width="0.25">C</text>
<text x="591.8" y="554.9" font-family="'Liberation Sans', Arial, sans-serif" font-size="12" font-weight="bold" fill="#111111" text-anchor="middle" stroke="#111111" stroke-width="0.25">C</text>
<text x="618.35" y="537.4" font-family="'Liberation Sans', Arial, sans-serif" font-size="12" font-weight="normal" fill="#b9b9b9" text-anchor="middle" >C</text>
<text x="640.23" y="554.9" font-family="'Liberation Sans', Arial, sans-serif" font-size="12" font-weight="bold" fill="#111111" text-anchor="start" stroke="#111111" stroke-width="0.25">OH</text>
<text x="618.35" y="502.8" font-family="'Liberation Sans', Arial, sans-serif" font-size="12" font-weight="normal" fill="#b9b9b9" text-anchor="middle" >O</text>
<text x="587.47" y="590.6" font-family="'Liberation Sans', Arial, sans-serif" font-size="12" font-weight="bold" fill="#111111" stroke="#111111" stroke-width="0.25">NH<tspan font-size="8.64" dy="2.64">2</tspan></text>
<path d="M537.8 526.4 H528.8 V578.1 H537.8" fill="none" stroke="#44b750" stroke-width="3.8" stroke-linejoin="round"/>
<path d="M652.1 526.4 H661.1 V578.1 H652.1" fill="none" stroke="#44b750" stroke-width="3.8" stroke-linejoin="round"/>
<line x1="562.47" y1="469.59" x2="577.21" y2="460.01" stroke="#b9b9b9" stroke-width="1.1" stroke-linecap="butt" />
<line x1="588.95" y1="460.01" x2="596.32" y2="464.8" stroke="#b9b9b9" stroke-width="1.25" stroke-linecap="butt" />
<line x1="596.32" y1="464.8" x2="603.69" y2="469.59" stroke="#111111" stroke-width="1.25" stroke-linecap="butt" />
<line x1="615.43" y1="469.59" x2="630.17" y2="460.01" stroke="#111111" stroke-width="1.25" stroke-linecap="butt" />
<line x1="641.91" y1="460.01" x2="656.65" y2="469.59" stroke="#111111" stroke-width="1.25" stroke-linecap="butt" />
<line x1="668.39" y1="469.59" x2="683.13" y2="460.01" stroke="#111111" stroke-width="1.25" stroke-linecap="butt" />
<line x1="694.87" y1="460.01" x2="702.24" y2="464.8" stroke="#111111" stroke-width="1.25" stroke-linecap="butt" />
<line x1="702.24" y1="464.8" x2="709.61" y2="469.59" stroke="#b9b9b9" stroke-width="1.25" stroke-linecap="butt" />
<line x1="691.9" y1="449.2" x2="691.9" y2="428.6" stroke="#111111" stroke-width="1.25" stroke-linecap="butt" />
<line x1="686.1" y1="449.2" x2="686.1" y2="428.6" stroke="#111111" stroke-width="1.25" stroke-linecap="butt" />
<line x1="662.52" y1="480.4" x2="662.52" y2="502.1" stroke="#111111" stroke-width="1.25" stroke-linecap="butt" />
<text x="556.6" y="477.7" font-family="'Liberation Sans', Arial, sans-serif" font-size="12" font-weight="normal" fill="#b9b9b9" text-anchor="middle" >C</text>
<text x="583.08" y="460.5" font-family="'Liberation Sans', Arial, sans-serif" font-size="12" font-weight="normal" fill="#b9b9b9" text-anchor="middle" >S</text>
<text x="609.56" y="477.7" font-family="'Liberation Sans', Arial, sans-serif" font-size="12" font-weight="bold" fill="#111111" text-anchor="middle" stroke="#111111" stroke-width="0.25">C</text>
<text x="636.04" y="460.5" font-family="'Liberation Sans', Arial, sans-serif" font-size="12" font-weight="bold" fill="#111111" text-anchor="middle" stroke="#111111" stroke-width="0.25">C</text>
<text x="662.52" y="477.7" font-family="'Liberation Sans', Arial, sans-serif" font-size="12" font-weight="bold" fill="#111111" text-anchor="middle" stroke="#111111" stroke-width="0.25">C</text>
<text x="689" y="460.5" font-family="'Liberation Sans', Arial, sans-serif" font-size="12" font-weight="bold" fill="#111111" text-anchor="middle" stroke="#111111" stroke-width="0.25">C</text>
<text x="710.81" y="477.7" font-family="'Liberation Sans', Arial, sans-serif" font-size="12" font-weight="normal" fill="#b9b9b9" text-anchor="start" >OH</text>
<text x="689" y="425.9" font-family="'Liberation Sans', Arial, sans-serif" font-size="12" font-weight="bold" fill="#111111" text-anchor="middle" stroke="#111111" stroke-width="0.25">O</text>
<text x="658.19" y="513.4" font-family="'Liberation Sans', Arial, sans-serif" font-size="12" font-weight="bold" fill="#111111" stroke="#111111" stroke-width="0.25">NH<tspan font-size="8.64" dy="2.64">2</tspan></text>
<path d="M603.9 444.1 H594.9 V496.3 H603.9" fill="none" stroke="#44b750" stroke-width="3.8" stroke-linejoin="round"/>
<path d="M695.1 444.1 H704.1 V496.3 H695.1" fill="none" stroke="#44b750" stroke-width="3.8" stroke-linejoin="round"/>
<line x1="709.99" y1="543.82" x2="724.86" y2="534.28" stroke="#b9b9b9" stroke-width="1.1" stroke-linecap="butt" />
<line x1="736.64" y1="534.28" x2="744.08" y2="539.05" stroke="#b9b9b9" stroke-width="1.25" stroke-linecap="butt" />
<line x1="744.08" y1="539.05" x2="751.51" y2="543.82" stroke="#111111" stroke-width="1.25" stroke-linecap="butt" />
<line x1="763.29" y1="543.82" x2="778.16" y2="534.28" stroke="#111111" stroke-width="1.25" stroke-linecap="butt" />
<line x1="789.94" y1="534.28" x2="804.81" y2="543.82" stroke="#111111" stroke-width="1.25" stroke-linecap="butt" />
<line x1="816.59" y1="543.82" x2="831.46" y2="534.28" stroke="#111111" stroke-width="1.25" stroke-linecap="butt" />
<line x1="843.24" y1="534.28" x2="858.11" y2="543.82" stroke="#111111" stroke-width="1.25" stroke-linecap="butt" />
<line x1="840.25" y1="523.5" x2="840.25" y2="502.9" stroke="#111111" stroke-width="1.25" stroke-linecap="butt" />
<line x1="834.45" y1="523.5" x2="834.45" y2="502.9" stroke="#111111" stroke-width="1.25" stroke-linecap="butt" />
<line x1="810.7" y1="554.6" x2="810.7" y2="565.45" stroke="#111111" stroke-width="1.25" stroke-linecap="butt" />
<line x1="810.7" y1="565.45" x2="810.7" y2="576.3" stroke="#b9b9b9" stroke-width="1.25" stroke-linecap="butt" />
<text x="704.1" y="551.9" font-family="'Liberation Sans', Arial, sans-serif" font-size="12" font-weight="normal" fill="#b9b9b9" text-anchor="middle" >C</text>
<text x="730.75" y="534.8" font-family="'Liberation Sans', Arial, sans-serif" font-size="12" font-weight="normal" fill="#b9b9b9" text-anchor="middle" >S</text>
<text x="757.4" y="551.9" font-family="'Liberation Sans', Arial, sans-serif" font-size="12" font-weight="bold" fill="#111111" text-anchor="middle" stroke="#111111" stroke-width="0.25">C</text>
<text x="784.05" y="534.8" font-family="'Liberation Sans', Arial, sans-serif" font-size="12" font-weight="bold" fill="#111111" text-anchor="middle" stroke="#111111" stroke-width="0.25">C</text>
<text x="810.7" y="551.9" font-family="'Liberation Sans', Arial, sans-serif" font-size="12" font-weight="bold" fill="#111111" text-anchor="middle" stroke="#111111" stroke-width="0.25">C</text>
<text x="837.35" y="534.8" font-family="'Liberation Sans', Arial, sans-serif" font-size="12" font-weight="bold" fill="#111111" text-anchor="middle" stroke="#111111" stroke-width="0.25">C</text>
<text x="859.33" y="551.9" font-family="'Liberation Sans', Arial, sans-serif" font-size="12" font-weight="bold" fill="#111111" text-anchor="start" stroke="#111111" stroke-width="0.25">OH</text>
<text x="837.35" y="500.2" font-family="'Liberation Sans', Arial, sans-serif" font-size="12" font-weight="bold" fill="#111111" text-anchor="middle" stroke="#111111" stroke-width="0.25">O</text>
<text x="806.37" y="587.6" font-family="'Liberation Sans', Arial, sans-serif" font-size="12" font-weight="normal" fill="#b9b9b9" >NH<tspan font-size="8.64" dy="2.64">2</tspan></text>
<path d="M756 518.8 H747 V570.1 H756" fill="none" stroke="#44b750" stroke-width="3.8" stroke-linejoin="round"/>
<path d="M871.2 518.8 H880.2 V570.1 H871.2" fill="none" stroke="#44b750" stroke-width="3.8" stroke-linejoin="round"/>
<line x1="873.02" y1="476.11" x2="887.98" y2="466.09" stroke="#b9b9b9" stroke-width="1.1" stroke-linecap="butt" />
<line x1="899.62" y1="466.09" x2="907.1" y2="471.1" stroke="#b9b9b9" stroke-width="1.25" stroke-linecap="butt" />
<line x1="907.1" y1="471.1" x2="914.58" y2="476.11" stroke="#111111" stroke-width="1.25" stroke-linecap="butt" />
<line x1="926.22" y1="476.11" x2="941.18" y2="466.09" stroke="#111111" stroke-width="1.25" stroke-linecap="butt" />
<line x1="952.82" y1="466.09" x2="967.78" y2="476.11" stroke="#111111" stroke-width="1.25" stroke-linecap="butt" />
<line x1="979.42" y1="476.11" x2="994.38" y2="466.09" stroke="#111111" stroke-width="1.25" stroke-linecap="butt" />
<line x1="1006.02" y1="466.09" x2="1020.98" y2="476.11" stroke="#111111" stroke-width="1.25" stroke-linecap="butt" />
<line x1="1003.1" y1="455.2" x2="1003.1" y2="434.6" stroke="#111111" stroke-width="1.25" stroke-linecap="butt" />
<line x1="997.3" y1="455.2" x2="997.3" y2="434.6" stroke="#111111" stroke-width="1.25" stroke-linecap="butt" />
<line x1="973.6" y1="487" x2="973.6" y2="508.7" stroke="#111111" stroke-width="1.25" stroke-linecap="butt" />
<text x="867.2" y="484.3" font-family="'Liberation Sans', Arial, sans-serif" font-size="12" font-weight="normal" fill="#b9b9b9" text-anchor="middle" >C</text>
<text x="893.8" y="466.5" font-family="'Liberation Sans', Arial, sans-serif" font-size="12" font-weight="normal" fill="#b9b9b9" text-anchor="middle" >S</text>
<text x="920.4" y="484.3" font-family="'Liberation Sans', Arial, sans-serif" font-size="12" font-weight="bold" fill="#111111" text-anchor="middle" stroke="#111111" stroke-width="0.25">C</text>
<text x="947" y="466.5" font-family="'Liberation Sans', Arial, sans-serif" font-size="12" font-weight="bold" fill="#111111" text-anchor="middle" stroke="#111111" stroke-width="0.25">C</text>
<text x="973.6" y="484.3" font-family="'Liberation Sans', Arial, sans-serif" font-size="12" font-weight="bold" fill="#111111" text-anchor="middle" stroke="#111111" stroke-width="0.25">C</text>
<text x="1000.2" y="466.5" font-family="'Liberation Sans', Arial, sans-serif" font-size="12" font-weight="bold" fill="#111111" text-anchor="middle" stroke="#111111" stroke-width="0.25">C</text>
<text x="1022.13" y="484.3" font-family="'Liberation Sans', Arial, sans-serif" font-size="12" font-weight="bold" fill="#111111" text-anchor="start" stroke="#111111" stroke-width="0.25">OH</text>
<text x="1000.2" y="431.9" font-family="'Liberation Sans', Arial, sans-serif" font-size="12" font-weight="bold" fill="#111111" text-anchor="middle" stroke="#111111" stroke-width="0.25">O</text>
<text x="969.27" y="520" font-family="'Liberation Sans', Arial, sans-serif" font-size="12" font-weight="bold" fill="#111111" stroke="#111111" stroke-width="0.25">NH<tspan font-size="8.64" dy="2.64">2</tspan></text>
<path d="M922 445 H913 V496.7 H922" fill="none" stroke="#44b750" stroke-width="3.8" stroke-linejoin="round"/>
<path d="M1034.5 445 H1043.5 V496.7 H1034.5" fill="none" stroke="#44b750" stroke-width="3.8" stroke-linejoin="round"/>
<line x1="826.54" y1="628.14" x2="841.38" y2="618.36" stroke="#111111" stroke-width="1.25" stroke-linecap="butt" />
<line x1="853.06" y1="618.36" x2="867.9" y2="628.14" stroke="#111111" stroke-width="1.25" stroke-linecap="butt" />
<line x1="879.58" y1="628.14" x2="894.42" y2="618.36" stroke="#111111" stroke-width="1.25" stroke-linecap="butt" />
<line x1="906.1" y1="618.36" x2="920.94" y2="628.14" stroke="#111111" stroke-width="1.25" stroke-linecap="butt" />
<line x1="932.62" y1="628.14" x2="940.04" y2="623.25" stroke="#111111" stroke-width="1.25" stroke-linecap="butt" />
<line x1="940.04" y1="623.25" x2="947.46" y2="618.36" stroke="#b9b9b9" stroke-width="1.25" stroke-linecap="butt" />
<line x1="959.14" y1="618.36" x2="973.98" y2="628.14" stroke="#b9b9b9" stroke-width="1.1" stroke-linecap="butt" />
<line x1="956.2" y1="607.5" x2="956.2" y2="586.9" stroke="#b9b9b9" stroke-width="1.1" stroke-linecap="butt" />
<line x1="950.4" y1="607.5" x2="950.4" y2="586.9" stroke="#b9b9b9" stroke-width="1.1" stroke-linecap="butt" />
<line x1="926.78" y1="639" x2="926.78" y2="649.85" stroke="#111111" stroke-width="1.25" stroke-linecap="butt" />
<line x1="926.78" y1="649.85" x2="926.78" y2="660.7" stroke="#b9b9b9" stroke-width="1.25" stroke-linecap="butt" />
<text x="820.7" y="636.3" font-family="'Liberation Sans', Arial, sans-serif" font-size="12" font-weight="bold" fill="#4088f2" text-anchor="middle" stroke="#4088f2" stroke-width="0.9">C</text>
<text x="847.22" y="618.8" font-family="'Liberation Sans', Arial, sans-serif" font-size="12" font-weight="bold" fill="#111111" text-anchor="middle" stroke="#111111" stroke-width="0.25">S</text>
<text x="873.74" y="636.3" font-family="'Liberation Sans', Arial, sans-serif" font-size="12" font-weight="bold" fill="#111111" text-anchor="middle" stroke="#111111" stroke-width="0.25">C</text>
<text x="900.26" y="618.8" font-family="'Liberation Sans', Arial, sans-serif" font-size="12" font-weight="bold" fill="#111111" text-anchor="middle" stroke="#111111" stroke-width="0.25">C</text>
<text x="926.78" y="636.3" font-family="'Liberation Sans', Arial, sans-serif" font-size="12" font-weight="bold" fill="#111111" text-anchor="middle" stroke="#111111" stroke-width="0.25">C</text>
<text x="953.3" y="618.8" font-family="'Liberation Sans', Arial, sans-serif" font-size="12" font-weight="normal" fill="#b9b9b9" text-anchor="middle" >C</text>
<text x="975.15" y="636.3" font-family="'Liberation Sans', Arial, sans-serif" font-size="12" font-weight="normal" fill="#b9b9b9" text-anchor="start" >OH</text>
<text x="953.3" y="584.2" font-family="'Liberation Sans', Arial, sans-serif" font-size="12" font-weight="normal" fill="#b9b9b9" text-anchor="middle" >O</text>
<text x="922.45" y="672" font-family="'Liberation Sans', Arial, sans-serif" font-size="12" font-weight="normal" fill="#b9b9b9" >NH<tspan font-size="8.64" dy="2.64">2</tspan></text>
<path d="M822 604.2 H813 V655.9 H822" fill="none" stroke="#4088f2" stroke-width="3.8" stroke-linejoin="round"/>
<path d="M927.1 604.2 H936.1 V655.9 H927.1" fill="none" stroke="#4088f2" stroke-width="3.8" stroke-linejoin="round"/>
<line x1="1129.99" y1="402.72" x2="1144.69" y2="393.28" stroke="#111111" stroke-width="1.25" stroke-linecap="butt" />
<line x1="1156.47" y1="393.28" x2="1171.17" y2="402.72" stroke="#111111" stroke-width="1.25" stroke-linecap="butt" />
<line x1="1182.95" y1="402.72" x2="1197.65" y2="393.28" stroke="#111111" stroke-width="1.25" stroke-linecap="butt" />
<line x1="1209.43" y1="393.28" x2="1224.13" y2="402.72" stroke="#111111" stroke-width="1.25" stroke-linecap="butt" />
<line x1="1235.91" y1="402.72" x2="1243.26" y2="398" stroke="#111111" stroke-width="1.25" stroke-linecap="butt" />
<line x1="1243.26" y1="398" x2="1250.61" y2="393.28" stroke="#b9b9b9" stroke-width="1.25" stroke-linecap="butt" />
<line x1="1262.39" y1="393.28" x2="1277.09" y2="402.72" stroke="#b9b9b9" stroke-width="1.1" stroke-linecap="butt" />
<line x1="1259.4" y1="382.5" x2="1259.4" y2="361.9" stroke="#b9b9b9" stroke-width="1.1" stroke-linecap="butt" />
<line x1="1253.6" y1="382.5" x2="1253.6" y2="361.9" stroke="#b9b9b9" stroke-width="1.1" stroke-linecap="butt" />
<line x1="1230.02" y1="413.5" x2="1230.02" y2="435.2" stroke="#111111" stroke-width="1.25" stroke-linecap="butt" />
<text x="1124.1" y="410.8" font-family="'Liberation Sans', Arial, sans-serif" font-size="12" font-weight="bold" fill="#4088f2" text-anchor="middle" stroke="#4088f2" stroke-width="0.9">C</text>
<text x="1150.58" y="393.8" font-family="'Liberation Sans', Arial, sans-serif" font-size="12" font-weight="bold" fill="#111111" text-anchor="middle" stroke="#111111" stroke-width="0.25">S</text>
<text x="1177.06" y="410.8" font-family="'Liberation Sans', Arial, sans-serif" font-size="12" font-weight="bold" fill="#111111" text-anchor="middle" stroke="#111111" stroke-width="0.25">C</text>
<text x="1203.54" y="393.8" font-family="'Liberation Sans', Arial, sans-serif" font-size="12" font-weight="bold" fill="#111111" text-anchor="middle" stroke="#111111" stroke-width="0.25">C</text>
<text x="1230.02" y="410.8" font-family="'Liberation Sans', Arial, sans-serif" font-size="12" font-weight="bold" fill="#111111" text-anchor="middle" stroke="#111111" stroke-width="0.25">C</text>
<text x="1256.5" y="393.8" font-family="'Liberation Sans', Arial, sans-serif" font-size="12" font-weight="normal" fill="#b9b9b9" text-anchor="middle" >C</text>
<text x="1278.31" y="410.8" font-family="'Liberation Sans', Arial, sans-serif" font-size="12" font-weight="normal" fill="#b9b9b9" text-anchor="start" >OH</text>
<text x="1256.5" y="359.2" font-family="'Liberation Sans', Arial, sans-serif" font-size="12" font-weight="normal" fill="#b9b9b9" text-anchor="middle" >O</text>
<text x="1225.69" y="446.5" font-family="'Liberation Sans', Arial, sans-serif" font-size="12" font-weight="bold" fill="#111111" stroke="#111111" stroke-width="0.25">NH<tspan font-size="8.64" dy="2.64">2</tspan></text>
<path d="M1119.9 378 H1110.9 V430.2 H1119.9" fill="none" stroke="#4088f2" stroke-width="3.8" stroke-linejoin="round"/>
<path d="M1235.5 378 H1244.5 V430.2 H1235.5" fill="none" stroke="#4088f2" stroke-width="3.8" stroke-linejoin="round"/>
<line x1="1520.95" y1="433.25" x2="1535.72" y2="423.55" stroke="#111111" stroke-width="1.25" stroke-linecap="butt" />
<line x1="1547.42" y1="423.55" x2="1562.19" y2="433.25" stroke="#111111" stroke-width="1.25" stroke-linecap="butt" />
<line x1="1573.89" y1="433.25" x2="1588.66" y2="423.55" stroke="#111111" stroke-width="1.25" stroke-linecap="butt" />
<line x1="1600.36" y1="423.55" x2="1615.13" y2="433.25" stroke="#111111" stroke-width="1.25" stroke-linecap="butt" />
<line x1="1626.83" y1="433.25" x2="1641.6" y2="423.55" stroke="#111111" stroke-width="1.25" stroke-linecap="butt" />
<line x1="1653.3" y1="423.55" x2="1668.07" y2="433.25" stroke="#111111" stroke-width="1.25" stroke-linecap="butt" />
<line x1="1650.35" y1="412.7" x2="1650.35" y2="392.1" stroke="#111111" stroke-width="1.25" stroke-linecap="butt" />
<line x1="1644.55" y1="412.7" x2="1644.55" y2="392.1" stroke="#111111" stroke-width="1.25" stroke-linecap="butt" />
<line x1="1620.98" y1="444.1" x2="1620.98" y2="454.95" stroke="#111111" stroke-width="1.25" stroke-linecap="butt" />
<line x1="1620.98" y1="454.95" x2="1620.98" y2="465.8" stroke="#b9b9b9" stroke-width="1.25" stroke-linecap="butt" />
<text x="1515.1" y="441.4" font-family="'Liberation Sans', Arial, sans-serif" font-size="12" font-weight="bold" fill="#4088f2" text-anchor="middle" stroke="#4088f2" stroke-width="0.9">C</text>
<text x="1541.57" y="424" font-family="'Liberation Sans', Arial, sans-serif" font-size="12" font-weight="bold" fill="#111111" text-anchor="middle" stroke="#111111" stroke-width="0.25">S</text>
<text x="1568.04" y="441.4" font-family="'Liberation Sans', Arial, sans-serif" font-size="12" font-weight="bold" fill="#111111" text-anchor="middle" stroke="#111111" stroke-width="0.25">C</text>
<text x="1594.51" y="424" font-family="'Liberation Sans', Arial, sans-serif" font-size="12" font-weight="bold" fill="#111111" text-anchor="middle" stroke="#111111" stroke-width="0.25">C</text>
<text x="1620.98" y="441.4" font-family="'Liberation Sans', Arial, sans-serif" font-size="12" font-weight="bold" fill="#111111" text-anchor="middle" stroke="#111111" stroke-width="0.25">C</text>
<text x="1647.45" y="424" font-family="'Liberation Sans', Arial, sans-serif" font-size="12" font-weight="bold" fill="#111111" text-anchor="middle" stroke="#111111" stroke-width="0.25">C</text>
<text x="1669.25" y="441.4" font-family="'Liberation Sans', Arial, sans-serif" font-size="12" font-weight="bold" fill="#111111" text-anchor="start" stroke="#111111" stroke-width="0.25">OH</text>
<text x="1647.45" y="389.4" font-family="'Liberation Sans', Arial, sans-serif" font-size="12" font-weight="bold" fill="#111111" text-anchor="middle" stroke="#111111" stroke-width="0.25">O</text>
<text x="1616.65" y="477.1" font-family="'Liberation Sans', Arial, sans-serif" font-size="12" font-weight="normal" fill="#b9b9b9" >NH<tspan font-size="8.64" dy="2.64">2</tspan></text>
<path d="M1515 409.6 H1506 V461.8 H1515" fill="none" stroke="#4088f2" stroke-width="3.8" stroke-linejoin="round"/>
<path d="M1680.1 409.6 H1689.1 V461.8 H1680.1" fill="none" stroke="#4088f2" stroke-width="3.8" stroke-linejoin="round"/>
<line x1="1810.53" y1="543.73" x2="1825.4" y2="533.87" stroke="#111111" stroke-width="1.25" stroke-linecap="butt" />
<line x1="1837.06" y1="533.87" x2="1851.93" y2="543.73" stroke="#111111" stroke-width="1.25" stroke-linecap="butt" />
<line x1="1863.59" y1="543.73" x2="1878.46" y2="533.87" stroke="#111111" stroke-width="1.25" stroke-linecap="butt" />
<line x1="1890.12" y1="533.87" x2="1904.99" y2="543.73" stroke="#111111" stroke-width="1.25" stroke-linecap="butt" />
<line x1="1916.65" y1="543.73" x2="1931.52" y2="533.87" stroke="#111111" stroke-width="1.25" stroke-linecap="butt" />
<line x1="1943.18" y1="533.87" x2="1958.05" y2="543.73" stroke="#111111" stroke-width="1.25" stroke-linecap="butt" />
<line x1="1940.25" y1="523" x2="1940.25" y2="502.4" stroke="#111111" stroke-width="1.25" stroke-linecap="butt" />
<line x1="1934.45" y1="523" x2="1934.45" y2="502.4" stroke="#111111" stroke-width="1.25" stroke-linecap="butt" />
<line x1="1910.82" y1="554.6" x2="1910.82" y2="576.3" stroke="#111111" stroke-width="1.25" stroke-linecap="butt" />
<text x="1804.7" y="551.9" font-family="'Liberation Sans', Arial, sans-serif" font-size="12" font-weight="bold" fill="#4088f2" text-anchor="middle" stroke="#4088f2" stroke-width="0.9">C</text>
<text x="1831.23" y="534.3" font-family="'Liberation Sans', Arial, sans-serif" font-size="12" font-weight="bold" fill="#111111" text-anchor="middle" stroke="#111111" stroke-width="0.25">S</text>
<text x="1857.76" y="551.9" font-family="'Liberation Sans', Arial, sans-serif" font-size="12" font-weight="bold" fill="#111111" text-anchor="middle" stroke="#111111" stroke-width="0.25">C</text>
<text x="1884.29" y="534.3" font-family="'Liberation Sans', Arial, sans-serif" font-size="12" font-weight="bold" fill="#111111" text-anchor="middle" stroke="#111111" stroke-width="0.25">C</text>
<text x="1910.82" y="551.9" font-family="'Liberation Sans', Arial, sans-serif" font-size="12" font-weight="bold" fill="#111111" text-anchor="middle" stroke="#111111" stroke-width="0.25">C</text>
<text x="1937.35" y="534.3" font-family="'Liberation Sans', Arial, sans-serif" font-size="12" font-weight="bold" fill="#111111" text-anchor="middle" stroke="#111111" stroke-width="0.25">C</text>
<text x="1959.21" y="551.9" font-family="'Liberation Sans', Arial, sans-serif" font-size="12" font-weight="bold" fill="#111111" text-anchor="start" stroke="#111111" stroke-width="0.25">OH</text>
<text x="1937.35" y="499.7" font-family="'Liberation Sans', Arial, sans-serif" font-size="12" font-weight="bold" fill="#111111" text-anchor="middle" stroke="#111111" stroke-width="0.25">O</text>
<text x="1906.49" y="587.6" font-family="'Liberation Sans', Arial, sans-serif" font-size="12" font-weight="bold" fill="#111111" stroke="#111111" stroke-width="0.25">NH<tspan font-size="8.64" dy="2.64">2</tspan></text>
<path d="M1798.9 520.9 H1789.9 V573.5 H1798.9" fill="none" stroke="#4088f2" stroke-width="3.8" stroke-linejoin="round"/>
<path d="M1975.6 520.9 H1984.6 V573.5 H1975.6" fill="none" stroke="#4088f2" stroke-width="3.8" stroke-linejoin="round"/>
<line x1="213.3" y1="429" x2="213.3" y2="460" stroke="#e46be6" stroke-width="3.6" stroke-linecap="butt" />
<polygon points="213.3,470.5 207.5,459 219.1,459" fill="#e46be6"/>
<line x1="300.5" y1="543.5" x2="300.5" y2="575" stroke="#e46be6" stroke-width="3.6" stroke-linecap="butt" />
<polygon points="300.5,585.5 294.7,574 306.3,574" fill="#e46be6"/>
<line x1="476.5" y1="629" x2="495.58" y2="653.69" stroke="#e46be6" stroke-width="3.6" stroke-linecap="butt" />
<polygon points="502,662 490.38,656.45 499.56,649.35" fill="#e46be6"/>
<line x1="566" y1="575" x2="550.49" y2="619.1" stroke="#e46be6" stroke-width="3.6" stroke-linecap="butt" />
<polygon points="547,629 545.35,616.23 556.29,620.08" fill="#e46be6"/>
<line x1="679.5" y1="523" x2="706.06" y2="629.41" stroke="#e46be6" stroke-width="3.6" stroke-linecap="butt" />
<polygon points="708.6,639.6 700.19,629.85 711.44,627.04" fill="#e46be6"/>
<line x1="745.2" y1="585.4" x2="731.86" y2="629.16" stroke="#e46be6" stroke-width="3.6" stroke-linecap="butt" />
<polygon points="728.8,639.2 726.61,626.51 737.7,629.89" fill="#e46be6"/>
<line x1="1010" y1="518.2" x2="1027.37" y2="585.24" stroke="#e46be6" stroke-width="3.6" stroke-linecap="butt" />
<polygon points="1030,595.4 1021.5,585.72 1032.73,582.81" fill="#e46be6"/>
<line x1="809.4" y1="662" x2="781.67" y2="689.42" stroke="#e46be6" stroke-width="3.6" stroke-linecap="butt" />
<polygon points="774.2,696.8 778.3,684.59 786.46,692.84" fill="#e46be6"/>
<line x1="1129.6" y1="442.8" x2="1094.43" y2="501.01" stroke="#e46be6" stroke-width="3.6" stroke-linecap="butt" />
<polygon points="1089,510 1089.98,497.16 1099.91,503.16" fill="#e46be6"/>
<line x1="1583.2" y1="467.9" x2="1583.2" y2="499.7" stroke="#e46be6" stroke-width="3.6" stroke-linecap="butt" />
<polygon points="1583.2,510.2 1577.4,498.7 1589,498.7" fill="#e46be6"/>
<line x1="1867.1" y1="574" x2="1867.1" y2="605.3" stroke="#e46be6" stroke-width="3.6" stroke-linecap="butt" />
<polygon points="1867.1,615.8 1861.3,604.3 1872.9,604.3" fill="#e46be6"/>
<text x="3" y="1122.5" font-family="'Liberation Serif', 'Times New Roman', serif" font-size="50" font-weight="normal" fill="#1f1c1d" text-anchor="start" >c.</text>
<text x="375" y="1128.75" font-family="'Liberation Serif', 'Times New Roman', serif" font-size="45.5" font-weight="normal" fill="#1f1c1d" text-anchor="start" textLength="108.75" lengthAdjust="spacingAndGlyphs">serine</text>
<line x1="194.1" y1="1390.75" x2="1962" y2="1390.75" stroke="#c4c7ca" stroke-width="3.2" stroke-linecap="round" stroke-dasharray="11.3 19.45"/>
<line x1="1970.9" y1="1390.75" x2="1982.3" y2="1390.75" stroke="#c4c7ca" stroke-width="3.2" stroke-linecap="round" />
<line x1="123" y1="1214.75" x2="123" y2="1566.8" stroke="#1f1c1d" stroke-width="3" stroke-linecap="butt" />
<line x1="109" y1="1216.35" x2="123" y2="1216.35" stroke="#1f1c1d" stroke-width="3" stroke-linecap="butt" />
<text x="99.5" y="1223.67" font-family="'Liberation Sans', Arial, sans-serif" font-size="20.8" font-weight="bold" fill="#1f1c1d" text-anchor="end" >100</text>
<line x1="109" y1="1259.95" x2="123" y2="1259.95" stroke="#1f1c1d" stroke-width="3" stroke-linecap="butt" />
<text x="99.5" y="1267.27" font-family="'Liberation Sans', Arial, sans-serif" font-size="20.8" font-weight="bold" fill="#1f1c1d" text-anchor="end" >75</text>
<line x1="109" y1="1303.55" x2="123" y2="1303.55" stroke="#1f1c1d" stroke-width="3" stroke-linecap="butt" />
<text x="99.5" y="1310.87" font-family="'Liberation Sans', Arial, sans-serif" font-size="20.8" font-weight="bold" fill="#1f1c1d" text-anchor="end" >50</text>
<line x1="109" y1="1347.15" x2="123" y2="1347.15" stroke="#1f1c1d" stroke-width="3" stroke-linecap="butt" />
<text x="99.5" y="1354.47" font-family="'Liberation Sans', Arial, sans-serif" font-size="20.8" font-weight="bold" fill="#1f1c1d" text-anchor="end" >25</text>
<line x1="109" y1="1390.75" x2="123" y2="1390.75" stroke="#1f1c1d" stroke-width="3" stroke-linecap="butt" />
<text x="99.5" y="1398.07" font-family="'Liberation Sans', Arial, sans-serif" font-size="20.8" font-weight="bold" fill="#1f1c1d" text-anchor="end" >0</text>
<line x1="109" y1="1434.35" x2="123" y2="1434.35" stroke="#1f1c1d" stroke-width="3" stroke-linecap="butt" />
<text x="99.5" y="1441.67" font-family="'Liberation Sans', Arial, sans-serif" font-size="20.8" font-weight="bold" fill="#1f1c1d" text-anchor="end" >−25</text>
<line x1="109" y1="1477.95" x2="123" y2="1477.95" stroke="#1f1c1d" stroke-width="3" stroke-linecap="butt" />
<text x="99.5" y="1485.27" font-family="'Liberation Sans', Arial, sans-serif" font-size="20.8" font-weight="bold" fill="#1f1c1d" text-anchor="end" >−50</text>
<line x1="109" y1="1521.55" x2="123" y2="1521.55" stroke="#1f1c1d" stroke-width="3" stroke-linecap="butt" />
<text x="99.5" y="1528.87" font-family="'Liberation Sans', Arial, sans-serif" font-size="20.8" font-weight="bold" fill="#1f1c1d" text-anchor="end" >−75</text>
<line x1="109" y1="1565.15" x2="123" y2="1565.15" stroke="#1f1c1d" stroke-width="3" stroke-linecap="butt" />
<text x="99.5" y="1572.47" font-family="'Liberation Sans', Arial, sans-serif" font-size="20.8" font-weight="bold" fill="#1f1c1d" text-anchor="end" >−100</text>
<text transform="translate(37.7,1408.5) rotate(-90)" font-family="'Liberation Sans', Arial, sans-serif" font-size="36" font-weight="bold" fill="#1f1c1d" text-anchor="middle">ion intensity</text>
<line x1="192.25" y1="1662.5" x2="1974.01" y2="1662.5" stroke="#1f1c1d" stroke-width="3" stroke-linecap="butt" />
<line x1="193.75" y1="1662.5" x2="193.75" y2="1676" stroke="#1f1c1d" stroke-width="3" stroke-linecap="round" />
<text transform="translate(201.21,1686.8) rotate(-90) scale(1,1.06)" font-family="'Liberation Sans', Arial, sans-serif" font-size="20.8" font-weight="normal" fill="#1f1c1d" text-anchor="end" stroke="#1f1c1d" stroke-width="0.5">55</text>
<line x1="371.63" y1="1662.5" x2="371.63" y2="1676" stroke="#1f1c1d" stroke-width="3" stroke-linecap="round" />
<text transform="translate(379.09,1686.8) rotate(-90) scale(1,1.06)" font-family="'Liberation Sans', Arial, sans-serif" font-size="20.8" font-weight="normal" fill="#1f1c1d" text-anchor="end" stroke="#1f1c1d" stroke-width="0.5">61</text>
<line x1="549.5" y1="1662.5" x2="549.5" y2="1676" stroke="#1f1c1d" stroke-width="3" stroke-linecap="round" />
<text transform="translate(556.96,1686.8) rotate(-90) scale(1,1.06)" font-family="'Liberation Sans', Arial, sans-serif" font-size="20.8" font-weight="normal" fill="#1f1c1d" text-anchor="end" stroke="#1f1c1d" stroke-width="0.5">67</text>
<line x1="727.38" y1="1662.5" x2="727.38" y2="1676" stroke="#1f1c1d" stroke-width="3" stroke-linecap="round" />
<text transform="translate(734.84,1686.8) rotate(-90) scale(1,1.06)" font-family="'Liberation Sans', Arial, sans-serif" font-size="20.8" font-weight="normal" fill="#1f1c1d" text-anchor="end" stroke="#1f1c1d" stroke-width="0.5">73</text>
<line x1="905.25" y1="1662.5" x2="905.25" y2="1676" stroke="#1f1c1d" stroke-width="3" stroke-linecap="round" />
<text transform="translate(912.71,1686.8) rotate(-90) scale(1,1.06)" font-family="'Liberation Sans', Arial, sans-serif" font-size="20.8" font-weight="normal" fill="#1f1c1d" text-anchor="end" stroke="#1f1c1d" stroke-width="0.5">79</text>
<line x1="1083.13" y1="1662.5" x2="1083.13" y2="1676" stroke="#1f1c1d" stroke-width="3" stroke-linecap="round" />
<text transform="translate(1090.59,1686.8) rotate(-90) scale(1,1.06)" font-family="'Liberation Sans', Arial, sans-serif" font-size="20.8" font-weight="normal" fill="#1f1c1d" text-anchor="end" stroke="#1f1c1d" stroke-width="0.5">85</text>
<line x1="1261.01" y1="1662.5" x2="1261.01" y2="1676" stroke="#1f1c1d" stroke-width="3" stroke-linecap="round" />
<text transform="translate(1268.47,1686.8) rotate(-90) scale(1,1.06)" font-family="'Liberation Sans', Arial, sans-serif" font-size="20.8" font-weight="normal" fill="#1f1c1d" text-anchor="end" stroke="#1f1c1d" stroke-width="0.5">91</text>
<line x1="1438.88" y1="1662.5" x2="1438.88" y2="1676" stroke="#1f1c1d" stroke-width="3" stroke-linecap="round" />
<text transform="translate(1446.34,1686.8) rotate(-90) scale(1,1.06)" font-family="'Liberation Sans', Arial, sans-serif" font-size="20.8" font-weight="normal" fill="#1f1c1d" text-anchor="end" stroke="#1f1c1d" stroke-width="0.5">97</text>
<line x1="1616.76" y1="1662.5" x2="1616.76" y2="1676" stroke="#1f1c1d" stroke-width="3" stroke-linecap="round" />
<text transform="translate(1624.22,1686.8) rotate(-90) scale(1,1.06)" font-family="'Liberation Sans', Arial, sans-serif" font-size="20.8" font-weight="normal" fill="#1f1c1d" text-anchor="end" stroke="#1f1c1d" stroke-width="0.5">103</text>
<line x1="1794.63" y1="1662.5" x2="1794.63" y2="1676" stroke="#1f1c1d" stroke-width="3" stroke-linecap="round" />
<text transform="translate(1802.09,1686.8) rotate(-90) scale(1,1.06)" font-family="'Liberation Sans', Arial, sans-serif" font-size="20.8" font-weight="normal" fill="#1f1c1d" text-anchor="end" stroke="#1f1c1d" stroke-width="0.5">109</text>
<line x1="1972.51" y1="1662.5" x2="1972.51" y2="1676" stroke="#1f1c1d" stroke-width="3" stroke-linecap="round" />
<text transform="translate(1979.97,1686.8) rotate(-90) scale(1,1.06)" font-family="'Liberation Sans', Arial, sans-serif" font-size="20.8" font-weight="normal" fill="#1f1c1d" text-anchor="end" stroke="#1f1c1d" stroke-width="0.5">115</text>
<text x="1053.9" y="1752.7" font-family="'Liberation Sans', Arial, sans-serif" font-size="35" font-weight="bold" fill="#1f1c1d" text-anchor="start" textLength="59.8" lengthAdjust="spacingAndGlyphs">m/z</text>
<line x1="343.3" y1="1390.75" x2="343.3" y2="1216.25" stroke="#3a6db4" stroke-width="4.8" stroke-linecap="butt" />
<line x1="402.79" y1="1390.75" x2="402.79" y2="1565" stroke="#3a6db4" stroke-width="4.8" stroke-linecap="butt" />
<line x1="639.29" y1="1390.75" x2="639.29" y2="1384.5" stroke="#3e1a86" stroke-width="4.8" stroke-linecap="butt" />
<line x1="728.53" y1="1390.75" x2="728.53" y2="1396.6" stroke="#3e1a86" stroke-width="4.8" stroke-linecap="butt" />
<line x1="1173.23" y1="1390.75" x2="1173.23" y2="1366.6" stroke="#3e1a86" stroke-width="4.8" stroke-linecap="butt" />
<line x1="1262.46" y1="1390.75" x2="1262.46" y2="1414.7" stroke="#3e1a86" stroke-width="4.8" stroke-linecap="butt" />
<line x1="1707.17" y1="1390.75" x2="1707.17" y2="1381.9" stroke="#3e1a86" stroke-width="4.8" stroke-linecap="butt" />
<line x1="1796.4" y1="1390.75" x2="1796.4" y2="1399.2" stroke="#3e1a86" stroke-width="4.8" stroke-linecap="butt" />
<text transform="translate(352.15,1182.55) rotate(-90)" font-family="'Liberation Sans', Arial, sans-serif" font-size="15.2" font-weight="normal" fill="#1f1c1d" text-anchor="middle" stroke="#1f1c1d" stroke-width="0.5">60.0446</text>
<text transform="translate(411.05,1600.75) rotate(-90)" font-family="'Liberation Sans', Arial, sans-serif" font-size="15.2" font-weight="normal" fill="#1f1c1d" text-anchor="middle" stroke="#1f1c1d" stroke-width="0.5">62.0512</text>
<text transform="translate(648.35,1350.1) rotate(-90)" font-family="'Liberation Sans', Arial, sans-serif" font-size="15.2" font-weight="normal" fill="#1f1c1d" text-anchor="middle" stroke="#1f1c1d" stroke-width="0.5">70.0287</text>
<text transform="translate(737.65,1432.55) rotate(-90)" font-family="'Liberation Sans', Arial, sans-serif" font-size="15.2" font-weight="normal" fill="#1f1c1d" text-anchor="middle" stroke="#1f1c1d" stroke-width="0.5">73.0387</text>
<text transform="translate(1181.95,1332.3) rotate(-90)" font-family="'Liberation Sans', Arial, sans-serif" font-size="15.2" font-weight="normal" fill="#1f1c1d" text-anchor="middle" stroke="#1f1c1d" stroke-width="0.5">88.0392</text>
<text transform="translate(1271.35,1450.4) rotate(-90)" font-family="'Liberation Sans', Arial, sans-serif" font-size="15.2" font-weight="normal" fill="#1f1c1d" text-anchor="middle" stroke="#1f1c1d" stroke-width="0.5">91.0492</text>
<text transform="translate(1716.25,1342.6) rotate(-90)" font-family="'Liberation Sans', Arial, sans-serif" font-size="15.2" font-weight="normal" fill="#1f1c1d" text-anchor="middle" stroke="#1f1c1d" stroke-width="0.5">106.0498</text>
<text transform="translate(1805.45,1438.55) rotate(-90)" font-family="'Liberation Sans', Arial, sans-serif" font-size="15.2" font-weight="normal" fill="#1f1c1d" text-anchor="middle" stroke="#1f1c1d" stroke-width="0.5">109.0597</text>
<text x="1381.5" y="1145.7" font-family="'Liberation Sans', Arial, sans-serif" font-size="26.4" fill="#1f1c1d" textLength="86.8" lengthAdjust="spacingAndGlyphs">(upper)</text>
<text x="1300.8" y="1181.1" font-family="'Liberation Sans', Arial, sans-serif" font-size="26.4" font-weight="bold" fill="#1f1c1d" textLength="63.9" lengthAdjust="spacingAndGlyphs"><tspan font-size="16.37" dy="-10.03">12</tspan><tspan dy="10.03">CO</tspan><tspan font-size="16.37" dy="5.81">2</tspan></text>
<text x="1372.5" y="1181.1" font-family="'Liberation Sans', Arial, sans-serif" font-size="26.4" fill="#1f1c1d" textLength="165.9" lengthAdjust="spacingAndGlyphs">control leaves</text>
<text x="1378" y="1546.2" font-family="'Liberation Sans', Arial, sans-serif" font-size="26.4" fill="#1f1c1d" textLength="83.4" lengthAdjust="spacingAndGlyphs">(lower)</text>
<text x="1295.2" y="1581.3" font-family="'Liberation Sans', Arial, sans-serif" font-size="26.4" font-weight="bold" fill="#3b80d2" textLength="63.9" lengthAdjust="spacingAndGlyphs"><tspan font-size="16.37" dy="-10.03">13</tspan><tspan dy="10.03">CO</tspan><tspan font-size="16.37" dy="5.81">2</tspan></text>
<text x="1367.6" y="1581.3" font-family="'Liberation Sans', Arial, sans-serif" font-size="26.4" fill="#1f1c1d" textLength="175.1" lengthAdjust="spacingAndGlyphs">labelled leaves</text>
<rect x="1856.1" y="1147.1" width="22.7" height="22" fill="#3a6db4"/>
<rect x="1856.1" y="1208" width="22.7" height="22" fill="#3e1a86"/>
<text x="1887.5" y="1154" font-family="'Liberation Sans', Arial, sans-serif" font-size="27" font-weight="normal" fill="#000" text-anchor="start" textLength="29" lengthAdjust="spacingAndGlyphs">13</text>
<text x="1919.5" y="1170.2" font-family="'Liberation Sans', Arial, sans-serif" font-size="43.5" font-weight="normal" fill="#000" text-anchor="start" textLength="25" lengthAdjust="spacingAndGlyphs">C</text>
<text x="1946.5" y="1181.7" font-family="'Liberation Sans', Arial, sans-serif" font-size="27" font-weight="normal" fill="#000" text-anchor="start" textLength="14" lengthAdjust="spacingAndGlyphs">2</text>
<text x="1887.5" y="1213.4" font-family="'Liberation Sans', Arial, sans-serif" font-size="27" font-weight="normal" fill="#000" text-anchor="start" textLength="29" lengthAdjust="spacingAndGlyphs">13</text>
<text x="1919.5" y="1229.6" font-family="'Liberation Sans', Arial, sans-serif" font-size="43.5" font-weight="normal" fill="#000" text-anchor="start" textLength="25" lengthAdjust="spacingAndGlyphs">C</text>
<text x="1946.5" y="1241.1" font-family="'Liberation Sans', Arial, sans-serif" font-size="27" font-weight="normal" fill="#000" text-anchor="start" textLength="14" lengthAdjust="spacingAndGlyphs">3</text>
<line x1="212.84" y1="1134.57" x2="226.89" y2="1126.53" stroke="#4a4a4a" stroke-width="1.1" stroke-linecap="butt" />
<line x1="239.91" y1="1126.53" x2="253.09" y2="1134.07" stroke="#4a4a4a" stroke-width="1.1" stroke-linecap="butt" />
<line x1="266.11" y1="1134.07" x2="279.29" y2="1126.53" stroke="#4a4a4a" stroke-width="1.1" stroke-linecap="butt" />
<line x1="292.31" y1="1126.53" x2="306.36" y2="1134.57" stroke="#4a4a4a" stroke-width="1.1" stroke-linecap="butt" />
<line x1="288.6" y1="1115.3" x2="288.6" y2="1098.8" stroke="#4a4a4a" stroke-width="1.1" stroke-linecap="butt" />
<line x1="283" y1="1115.3" x2="283" y2="1098.8" stroke="#4a4a4a" stroke-width="1.1" stroke-linecap="butt" />
<line x1="259.6" y1="1145.3" x2="259.6" y2="1161.3" stroke="#4a4a4a" stroke-width="1.1" stroke-linecap="butt" />
<text x="211.17" y="1141.45" font-family="'Liberation Sans', Arial, sans-serif" font-size="10.2" font-weight="normal" fill="#2b2b2b" text-anchor="end" >HO</text>
<text x="233.4" y="1128.35" font-family="'Liberation Sans', Arial, sans-serif" font-size="15.5" font-weight="normal" fill="#4088f2" text-anchor="middle" stroke="#4088f2" stroke-width="0.45">C</text>
<text x="259.6" y="1143.35" font-family="'Liberation Sans', Arial, sans-serif" font-size="15.5" font-weight="normal" fill="#4088f2" text-anchor="middle" stroke="#4088f2" stroke-width="0.45">C</text>
<text x="285.8" y="1128.35" font-family="'Liberation Sans', Arial, sans-serif" font-size="15.5" font-weight="normal" fill="#4088f2" text-anchor="middle" stroke="#4088f2" stroke-width="0.45">C</text>
<text x="308.03" y="1141.45" font-family="'Liberation Sans', Arial, sans-serif" font-size="10.2" font-weight="normal" fill="#2b2b2b" text-anchor="start" >OH</text>
<text x="285.8" y="1096.45" font-family="'Liberation Sans', Arial, sans-serif" font-size="10.2" font-weight="normal" fill="#2b2b2b" text-anchor="middle" >O</text>
<text x="255.92" y="1171.45" font-family="'Liberation Sans', Arial, sans-serif" font-size="10.2" font-weight="normal" fill="#2b2b2b" >NH<tspan font-size="7.34" dy="2.24">2</tspan></text>
<path d="M199.1 1104 H189.6 V1156.4 H199.1" fill="none" stroke="#4088f2" stroke-width="4" stroke-linejoin="round"/>
<path d="M264.9 1104 H274.4 V1156.4 H264.9" fill="none" stroke="#4088f2" stroke-width="4" stroke-linejoin="round"/>
<line x1="597.03" y1="1208.35" x2="611.21" y2="1200.15" stroke="#4a4a4a" stroke-width="1.1" stroke-linecap="butt" />
<line x1="624.19" y1="1200.15" x2="637.51" y2="1207.85" stroke="#4a4a4a" stroke-width="1.1" stroke-linecap="butt" />
<line x1="650.49" y1="1207.85" x2="663.81" y2="1200.15" stroke="#4a4a4a" stroke-width="1.1" stroke-linecap="butt" />
<line x1="676.79" y1="1200.15" x2="690.97" y2="1208.35" stroke="#4a4a4a" stroke-width="1.1" stroke-linecap="butt" />
<line x1="673.1" y1="1188.9" x2="673.1" y2="1172.4" stroke="#4a4a4a" stroke-width="1.1" stroke-linecap="butt" />
<line x1="667.5" y1="1188.9" x2="667.5" y2="1172.4" stroke="#4a4a4a" stroke-width="1.1" stroke-linecap="butt" />
<line x1="644" y1="1219.1" x2="644" y2="1235.1" stroke="#4a4a4a" stroke-width="1.1" stroke-linecap="butt" />
<text x="595.37" y="1215.25" font-family="'Liberation Sans', Arial, sans-serif" font-size="10.2" font-weight="normal" fill="#2b2b2b" text-anchor="end" >HO</text>
<text x="617.7" y="1201.95" font-family="'Liberation Sans', Arial, sans-serif" font-size="15.5" font-weight="normal" fill="#4088f2" text-anchor="middle" stroke="#4088f2" stroke-width="0.45">C</text>
<text x="644" y="1217.15" font-family="'Liberation Sans', Arial, sans-serif" font-size="15.5" font-weight="normal" fill="#4088f2" text-anchor="middle" stroke="#4088f2" stroke-width="0.45">C</text>
<text x="670.3" y="1201.95" font-family="'Liberation Sans', Arial, sans-serif" font-size="15.5" font-weight="normal" fill="#4088f2" text-anchor="middle" stroke="#4088f2" stroke-width="0.45">C</text>
<text x="692.63" y="1215.25" font-family="'Liberation Sans', Arial, sans-serif" font-size="10.2" font-weight="normal" fill="#2b2b2b" text-anchor="start" >OH</text>
<text x="670.3" y="1170.05" font-family="'Liberation Sans', Arial, sans-serif" font-size="10.2" font-weight="normal" fill="#2b2b2b" text-anchor="middle" >O</text>
<text x="640.32" y="1245.25" font-family="'Liberation Sans', Arial, sans-serif" font-size="10.2" font-weight="normal" fill="#2b2b2b" >NH<tspan font-size="7.34" dy="2.24">2</tspan></text>
<path d="M610.4 1173.2 H600.9 V1224.2 H610.4" fill="none" stroke="#4088f2" stroke-width="4" stroke-linejoin="round"/>
<path d="M677 1173.2 H686.5 V1224.2 H677" fill="none" stroke="#4088f2" stroke-width="4" stroke-linejoin="round"/>
<line x1="1059.11" y1="1229.42" x2="1072.72" y2="1221.48" stroke="#4a4a4a" stroke-width="1.1" stroke-linecap="butt" />
<line x1="1085.64" y1="1221.54" x2="1099.26" y2="1229.66" stroke="#4a4a4a" stroke-width="1.1" stroke-linecap="butt" />
<line x1="1112.67" y1="1230.72" x2="1125.03" y2="1225.78" stroke="#4a4a4a" stroke-width="1.1" stroke-linecap="butt" />
<line x1="1138.57" y1="1226.61" x2="1153.6" y2="1234.87" stroke="#4a4a4a" stroke-width="1.1" stroke-linecap="butt" />
<line x1="1134.9" y1="1215.54" x2="1135.12" y2="1199.04" stroke="#4a4a4a" stroke-width="1.1" stroke-linecap="butt" />
<line x1="1129.3" y1="1215.46" x2="1129.52" y2="1198.96" stroke="#4a4a4a" stroke-width="1.1" stroke-linecap="butt" />
<line x1="1105.9" y1="1241" x2="1106.33" y2="1257" stroke="#4a4a4a" stroke-width="1.1" stroke-linecap="butt" />
<text x="1057.47" y="1236.35" font-family="'Liberation Sans', Arial, sans-serif" font-size="10.2" font-weight="normal" fill="#2b2b2b" text-anchor="end" >HO</text>
<text x="1079.2" y="1223.25" font-family="'Liberation Sans', Arial, sans-serif" font-size="15.5" font-weight="normal" fill="#4088f2" text-anchor="middle" stroke="#4088f2" stroke-width="0.45">C</text>
<text x="1105.7" y="1239.05" font-family="'Liberation Sans', Arial, sans-serif" font-size="15.5" font-weight="normal" fill="#4088f2" text-anchor="middle" stroke="#4088f2" stroke-width="0.45">C</text>
<text x="1132" y="1228.55" font-family="'Liberation Sans', Arial, sans-serif" font-size="15.5" font-weight="normal" fill="#4088f2" text-anchor="middle" stroke="#4088f2" stroke-width="0.45">C</text>
<text x="1155.33" y="1241.65" font-family="'Liberation Sans', Arial, sans-serif" font-size="10.2" font-weight="normal" fill="#2b2b2b" text-anchor="start" >OH</text>
<text x="1132.4" y="1196.65" font-family="'Liberation Sans', Arial, sans-serif" font-size="10.2" font-weight="normal" fill="#2b2b2b" text-anchor="middle" >O</text>
<text x="1102.82" y="1267.15" font-family="'Liberation Sans', Arial, sans-serif" font-size="10.2" font-weight="normal" fill="#2b2b2b" >NH<tspan font-size="7.34" dy="2.24">2</tspan></text>
<path d="M1047 1202 H1037.5 V1254 H1047" fill="none" stroke="#4088f2" stroke-width="4" stroke-linejoin="round"/>
<path d="M1139 1199 H1148.5 V1251 H1139" fill="none" stroke="#4088f2" stroke-width="4" stroke-linejoin="round"/>
<line x1="1194.6" y1="1233.7" x2="1208.79" y2="1225.31" stroke="#4a4a4a" stroke-width="1.1" stroke-linecap="butt" />
<line x1="1221.71" y1="1225.31" x2="1235.04" y2="1233.19" stroke="#4a4a4a" stroke-width="1.1" stroke-linecap="butt" />
<line x1="1247.96" y1="1233.19" x2="1261.29" y2="1225.31" stroke="#4a4a4a" stroke-width="1.1" stroke-linecap="butt" />
<line x1="1274.21" y1="1225.31" x2="1288.4" y2="1233.7" stroke="#4a4a4a" stroke-width="1.1" stroke-linecap="butt" />
<line x1="1270.55" y1="1214" x2="1270.55" y2="1197.5" stroke="#4a4a4a" stroke-width="1.1" stroke-linecap="butt" />
<line x1="1264.95" y1="1214" x2="1264.95" y2="1197.5" stroke="#4a4a4a" stroke-width="1.1" stroke-linecap="butt" />
<line x1="1241.5" y1="1244.5" x2="1241.5" y2="1260.5" stroke="#4a4a4a" stroke-width="1.1" stroke-linecap="butt" />
<text x="1192.97" y="1240.65" font-family="'Liberation Sans', Arial, sans-serif" font-size="10.2" font-weight="normal" fill="#2b2b2b" text-anchor="end" >HO</text>
<text x="1215.25" y="1227.05" font-family="'Liberation Sans', Arial, sans-serif" font-size="15.5" font-weight="normal" fill="#4088f2" text-anchor="middle" stroke="#4088f2" stroke-width="0.45">C</text>
<text x="1241.5" y="1242.55" font-family="'Liberation Sans', Arial, sans-serif" font-size="15.5" font-weight="normal" fill="#4088f2" text-anchor="middle" stroke="#4088f2" stroke-width="0.45">C</text>
<text x="1267.75" y="1227.05" font-family="'Liberation Sans', Arial, sans-serif" font-size="15.5" font-weight="normal" fill="#4088f2" text-anchor="middle" stroke="#4088f2" stroke-width="0.45">C</text>
<text x="1290.03" y="1240.65" font-family="'Liberation Sans', Arial, sans-serif" font-size="10.2" font-weight="normal" fill="#2b2b2b" text-anchor="start" >OH</text>
<text x="1267.75" y="1195.15" font-family="'Liberation Sans', Arial, sans-serif" font-size="10.2" font-weight="normal" fill="#2b2b2b" text-anchor="middle" >O</text>
<text x="1237.82" y="1270.65" font-family="'Liberation Sans', Arial, sans-serif" font-size="10.2" font-weight="normal" fill="#2b2b2b" >NH<tspan font-size="7.34" dy="2.24">2</tspan></text>
<path d="M1212 1201.2 H1202.5 V1252.2 H1212" fill="none" stroke="#4088f2" stroke-width="4" stroke-linejoin="round"/>
<path d="M1300.2 1201.2 H1309.7 V1252.2 H1300.2" fill="none" stroke="#4088f2" stroke-width="4" stroke-linejoin="round"/>
<line x1="1662.19" y1="1204.26" x2="1676.23" y2="1196.52" stroke="#4a4a4a" stroke-width="1.1" stroke-linecap="butt" />
<line x1="1689.37" y1="1196.52" x2="1702.53" y2="1203.78" stroke="#4a4a4a" stroke-width="1.1" stroke-linecap="butt" />
<line x1="1715.67" y1="1203.78" x2="1728.83" y2="1196.52" stroke="#4a4a4a" stroke-width="1.1" stroke-linecap="butt" />
<line x1="1741.97" y1="1196.52" x2="1756.01" y2="1204.26" stroke="#4a4a4a" stroke-width="1.1" stroke-linecap="butt" />
<line x1="1738.2" y1="1185.4" x2="1738.2" y2="1168.9" stroke="#4a4a4a" stroke-width="1.1" stroke-linecap="butt" />
<line x1="1732.6" y1="1185.4" x2="1732.6" y2="1168.9" stroke="#4a4a4a" stroke-width="1.1" stroke-linecap="butt" />
<line x1="1709.1" y1="1214.9" x2="1709.1" y2="1230.9" stroke="#4a4a4a" stroke-width="1.1" stroke-linecap="butt" />
<text x="1660.47" y="1211.05" font-family="'Liberation Sans', Arial, sans-serif" font-size="10.2" font-weight="normal" fill="#2b2b2b" text-anchor="end" >HO</text>
<text x="1682.8" y="1198.45" font-family="'Liberation Sans', Arial, sans-serif" font-size="15.5" font-weight="normal" fill="#4088f2" text-anchor="middle" stroke="#4088f2" stroke-width="0.45">C</text>
<text x="1709.1" y="1212.95" font-family="'Liberation Sans', Arial, sans-serif" font-size="15.5" font-weight="normal" fill="#4088f2" text-anchor="middle" stroke="#4088f2" stroke-width="0.45">C</text>
<text x="1735.4" y="1198.45" font-family="'Liberation Sans', Arial, sans-serif" font-size="15.5" font-weight="normal" fill="#4088f2" text-anchor="middle" stroke="#4088f2" stroke-width="0.45">C</text>
<text x="1757.73" y="1211.05" font-family="'Liberation Sans', Arial, sans-serif" font-size="10.2" font-weight="normal" fill="#2b2b2b" text-anchor="start" >OH</text>
<text x="1735.4" y="1166.55" font-family="'Liberation Sans', Arial, sans-serif" font-size="10.2" font-weight="normal" fill="#2b2b2b" text-anchor="middle" >O</text>
<text x="1705.42" y="1241.05" font-family="'Liberation Sans', Arial, sans-serif" font-size="10.2" font-weight="normal" fill="#2b2b2b" >NH<tspan font-size="7.34" dy="2.24">2</tspan></text>
<path d="M1650 1175.6 H1640.5 V1229 H1650" fill="none" stroke="#4088f2" stroke-width="4" stroke-linejoin="round"/>
<path d="M1770.4 1175.6 H1779.9 V1229 H1770.4" fill="none" stroke="#4088f2" stroke-width="4" stroke-linejoin="round"/>
<line x1="300.4" y1="1159.2" x2="322.33" y2="1182.03" stroke="#e46be6" stroke-width="3.6" stroke-linecap="butt" />
<polygon points="329.6,1189.6 317.45,1185.32 325.82,1177.29" fill="#e46be6"/>
<line x1="643.7" y1="1260.1" x2="643.7" y2="1291.5" stroke="#e46be6" stroke-width="3.6" stroke-linecap="butt" />
<polygon points="643.7,1302 637.9,1290.5 649.5,1290.5" fill="#e46be6"/>
<line x1="1153" y1="1262.7" x2="1165.75" y2="1289.99" stroke="#e46be6" stroke-width="3.6" stroke-linecap="butt" />
<polygon points="1170.2,1299.5 1160.08,1291.54 1170.59,1286.63" fill="#e46be6"/>
<line x1="1200.2" y1="1260.5" x2="1186.27" y2="1287.84" stroke="#e46be6" stroke-width="3.6" stroke-linecap="butt" />
<polygon points="1181.5,1297.2 1181.55,1284.32 1191.89,1289.59" fill="#e46be6"/>
<line x1="1711.4" y1="1257.3" x2="1711.4" y2="1288.2" stroke="#e46be6" stroke-width="3.6" stroke-linecap="butt" />
<polygon points="1711.4,1298.7 1705.6,1287.2 1717.2,1287.2" fill="#e46be6"/>
</svg>
</body></html>
